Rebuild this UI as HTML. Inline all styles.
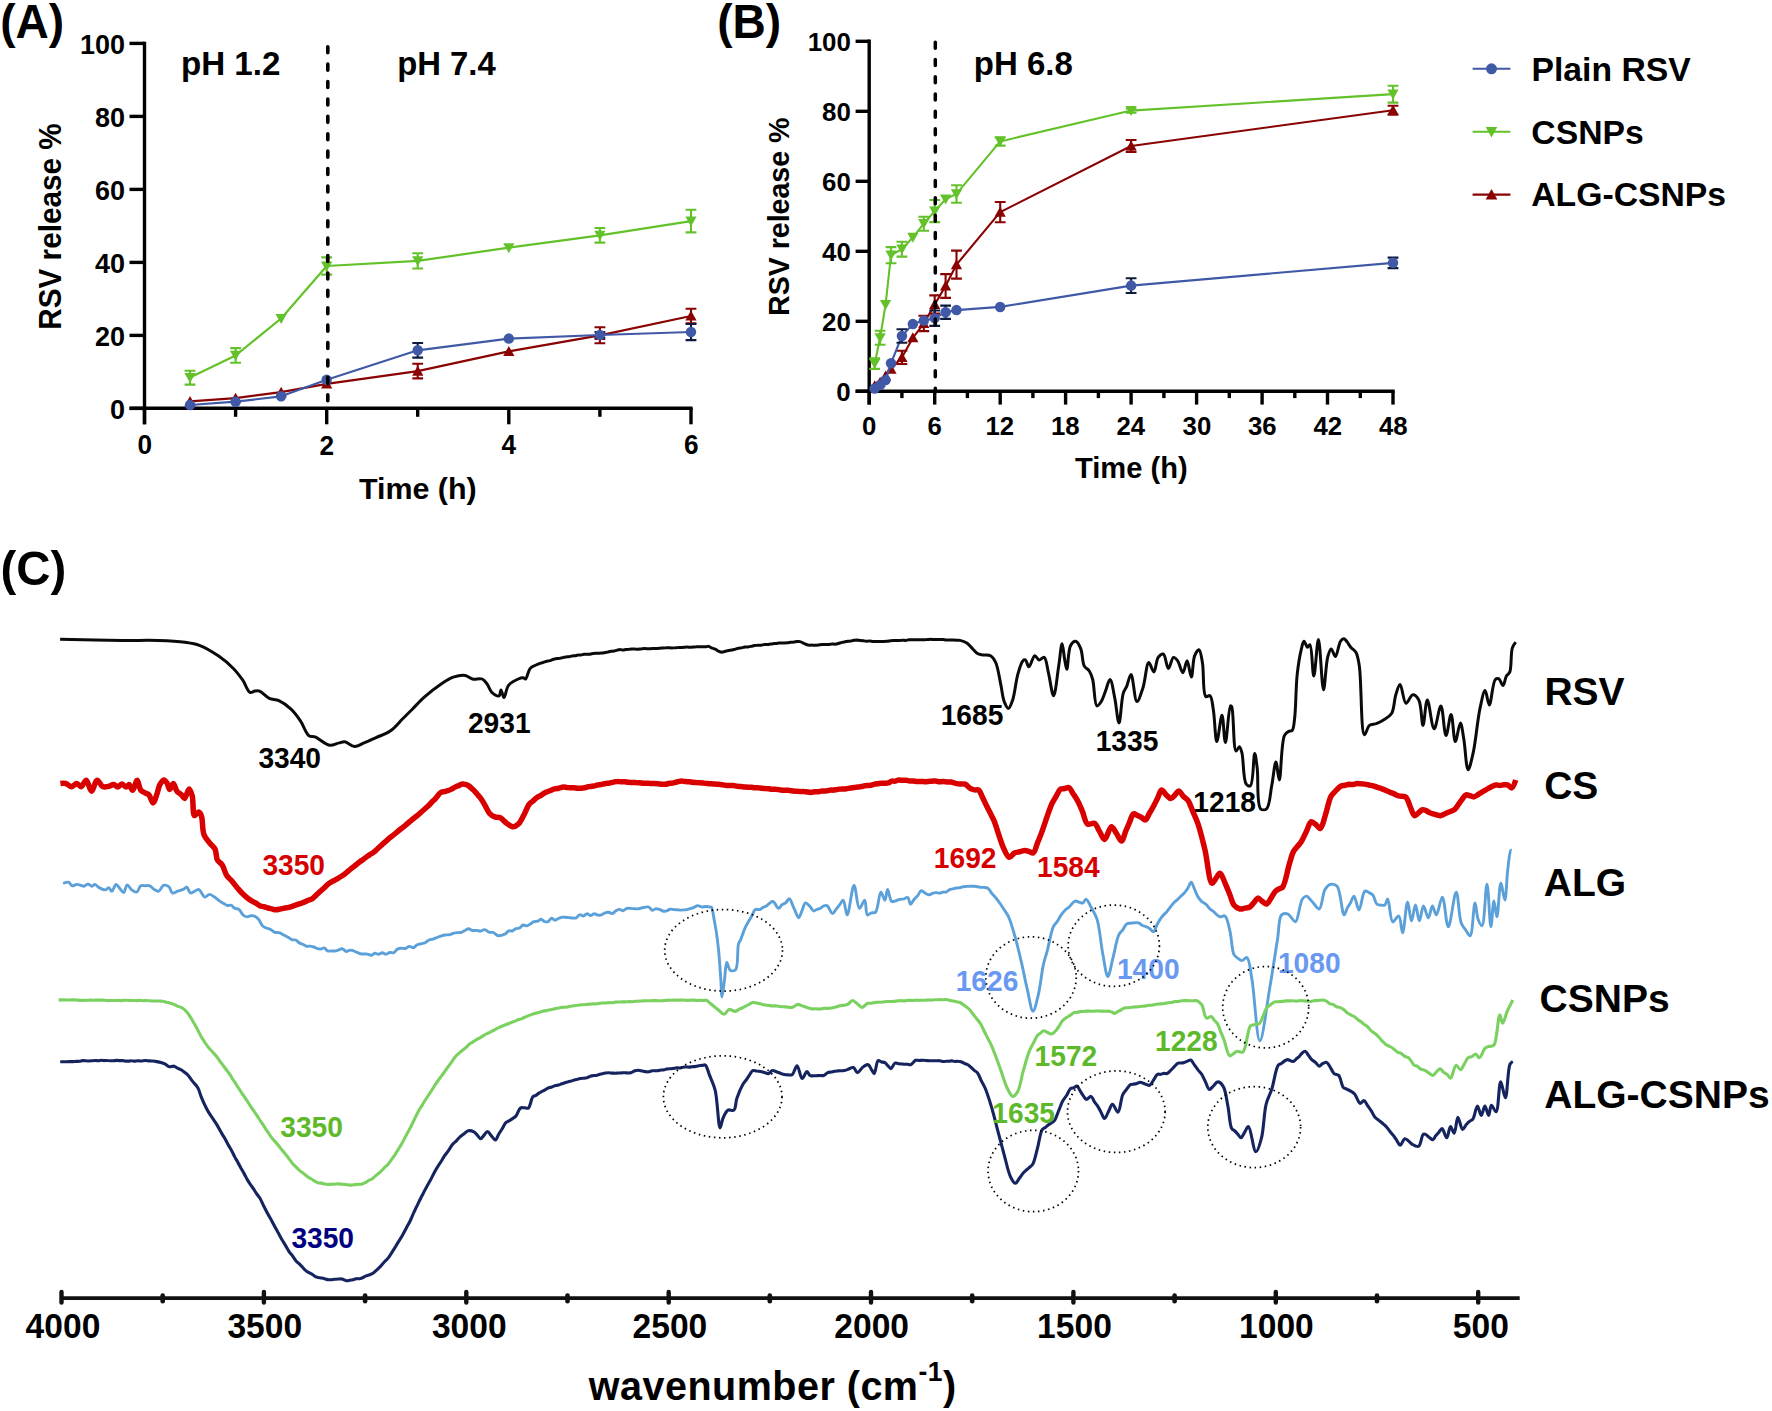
<!DOCTYPE html>
<html><head><meta charset="utf-8"><title>RSV release profiles and FTIR spectra</title>
<style>
html,body{margin:0;padding:0;background:#fff;}
svg{display:block;}
text{font-family:'Liberation Sans', Arial, Helvetica, sans-serif;}
</style></head>
<body>
<svg width="1772" height="1411" viewBox="0 0 1772 1411">
<rect width="1772" height="1411" fill="#fff"/>
<path d="M144.5,41.7V424.2" stroke="#000" stroke-width="3.4" fill="none"/>
<path d="M129.5,408.3H692.6" stroke="#000" stroke-width="3.6" fill="none"/>
<path d="M129.5,43.4H144.5" stroke="#000" stroke-width="3.4"/>
<path d="M129.5,116.4H144.5" stroke="#000" stroke-width="3.4"/>
<path d="M129.5,189.4H144.5" stroke="#000" stroke-width="3.4"/>
<path d="M129.5,262.4H144.5" stroke="#000" stroke-width="3.4"/>
<path d="M129.5,335.4H144.5" stroke="#000" stroke-width="3.4"/>
<path d="M129.5,408.4H144.5" stroke="#000" stroke-width="3.4"/>
<path d="M144.5,408.3V424.3" stroke="#000" stroke-width="3.4"/>
<path d="M235.6,408.3V416.8" stroke="#000" stroke-width="3.4"/>
<path d="M326.7,408.3V424.3" stroke="#000" stroke-width="3.4"/>
<path d="M417.7,408.3V416.8" stroke="#000" stroke-width="3.4"/>
<path d="M508.8,408.3V424.3" stroke="#000" stroke-width="3.4"/>
<path d="M599.9,408.3V416.8" stroke="#000" stroke-width="3.4"/>
<path d="M691.0,408.3V424.3" stroke="#000" stroke-width="3.4"/>
<path d="M190.0,401.4L235.6,398.1L281.1,392.2L326.7,383.9L417.7,371.1L508.8,351.4L599.9,335.3L691.0,316.0" stroke="#8a0202" stroke-width="2.2" fill="none" stroke-linejoin="round"/>
<path d="M417.7,363.8V378.4M412.3,363.8H423.1M412.3,378.4H423.1" stroke="#8a0202" stroke-width="2.1" fill="none"/>
<path d="M599.9,327.3V343.3M594.5,327.3H605.3M594.5,343.3H605.3" stroke="#8a0202" stroke-width="2.1" fill="none"/>
<path d="M691.0,308.7V323.3M685.6,308.7H696.4M685.6,323.3H696.4" stroke="#8a0202" stroke-width="2.1" fill="none"/>
<path d="M184.44,405.97L195.64,405.97L190.04,395.97Z" fill="#8a0202"/>
<path d="M229.98,402.68L241.18,402.68L235.58,392.68Z" fill="#8a0202"/>
<path d="M275.52,396.84L286.72,396.84L281.12,386.84Z" fill="#8a0202"/>
<path d="M321.06,388.45L332.26,388.45L326.66,378.45Z" fill="#8a0202"/>
<path d="M412.14,375.68L423.34,375.68L417.74,365.68Z" fill="#8a0202"/>
<path d="M503.22,355.98L514.42,355.98L508.82,345.98Z" fill="#8a0202"/>
<path d="M594.30,339.92L605.50,339.92L599.90,329.92Z" fill="#8a0202"/>
<path d="M685.38,320.58L696.58,320.58L690.98,310.58Z" fill="#8a0202"/>
<path d="M190.0,405.0L235.6,401.7L281.1,396.3L326.7,379.8L417.7,350.3L508.8,338.6L599.9,335.0L691.0,332.0" stroke="#4059a6" stroke-width="2.2" fill="none" stroke-linejoin="round"/>
<path d="M417.7,343.0V357.6M412.3,343.0H423.1M412.3,357.6H423.1" stroke="#0f1b3c" stroke-width="2.1" fill="none"/>
<path d="M599.9,332.0V337.9M594.5,332.0H605.3M594.5,337.9H605.3" stroke="#0f1b3c" stroke-width="2.1" fill="none"/>
<path d="M691.0,324.0V340.1M685.6,324.0H696.4M685.6,340.1H696.4" stroke="#0f1b3c" stroke-width="2.1" fill="none"/>
<circle cx="190.04" cy="405.02" r="5.25" fill="#4059a6"/>
<circle cx="235.58" cy="401.73" r="5.25" fill="#4059a6"/>
<circle cx="281.12" cy="396.26" r="5.25" fill="#4059a6"/>
<circle cx="326.66" cy="379.84" r="5.25" fill="#4059a6"/>
<circle cx="417.74" cy="350.28" r="5.25" fill="#4059a6"/>
<circle cx="508.82" cy="338.60" r="5.25" fill="#4059a6"/>
<circle cx="599.90" cy="334.96" r="5.25" fill="#4059a6"/>
<circle cx="690.98" cy="332.04" r="5.25" fill="#4059a6"/>
<path d="M190.0,377.6L235.6,355.4L281.1,318.5L326.7,266.0L417.7,260.9L508.8,247.7L599.9,235.3L691.0,221.1" stroke="#63c12a" stroke-width="2.2" fill="none" stroke-linejoin="round"/>
<path d="M190.0,370.7V384.6M184.6,370.7H195.4M184.6,384.6H195.4" stroke="#63c12a" stroke-width="2.1" fill="none"/>
<path d="M235.6,348.1V362.7M230.2,348.1H241.0M230.2,362.7H241.0" stroke="#63c12a" stroke-width="2.1" fill="none"/>
<path d="M326.7,257.4V274.6M321.3,257.4H332.1M321.3,274.6H332.1" stroke="#63c12a" stroke-width="2.1" fill="none"/>
<path d="M417.7,253.2V268.5M412.3,253.2H423.1M412.3,268.5H423.1" stroke="#63c12a" stroke-width="2.1" fill="none"/>
<path d="M599.9,228.0V242.6M594.5,228.0H605.3M594.5,242.6H605.3" stroke="#63c12a" stroke-width="2.1" fill="none"/>
<path d="M691.0,209.8V232.4M685.6,209.8H696.4M685.6,232.4H696.4" stroke="#63c12a" stroke-width="2.1" fill="none"/>
<path d="M184.44,373.05L195.64,373.05L190.04,383.05Z" fill="#63c12a"/>
<path d="M229.98,350.79L241.18,350.79L235.58,360.79Z" fill="#63c12a"/>
<path d="M275.52,313.93L286.72,313.93L281.12,323.93Z" fill="#63c12a"/>
<path d="M321.06,261.39L332.26,261.39L326.66,271.39Z" fill="#63c12a"/>
<path d="M412.14,256.28L423.34,256.28L417.74,266.28Z" fill="#63c12a"/>
<path d="M503.22,243.14L514.42,243.14L508.82,253.14Z" fill="#63c12a"/>
<path d="M594.30,230.74L605.50,230.74L599.90,240.74Z" fill="#63c12a"/>
<path d="M685.38,216.51L696.58,216.51L690.98,226.51Z" fill="#63c12a"/>
<path d="M327.8,46.75V404" stroke="#000" stroke-width="3.6" stroke-dasharray="6 11.4" stroke-linecap="round" fill="none"/>
<path d="M869.2,39.6V404.6" stroke="#000" stroke-width="3.4" fill="none"/>
<path d="M855.6,391.3H1394.7" stroke="#000" stroke-width="3.4" fill="none"/>
<path d="M855.6,41.3H869.2" stroke="#000" stroke-width="3.4"/>
<path d="M855.6,111.3H869.2" stroke="#000" stroke-width="3.4"/>
<path d="M855.6,181.3H869.2" stroke="#000" stroke-width="3.4"/>
<path d="M855.6,251.3H869.2" stroke="#000" stroke-width="3.4"/>
<path d="M855.6,321.3H869.2" stroke="#000" stroke-width="3.4"/>
<path d="M855.6,391.3H869.2" stroke="#000" stroke-width="3.4"/>
<path d="M869.2,391.3V404.6" stroke="#000" stroke-width="3.4"/>
<path d="M901.9,391.3V398.1" stroke="#000" stroke-width="3.4"/>
<path d="M934.7,391.3V404.6" stroke="#000" stroke-width="3.4"/>
<path d="M967.4,391.3V398.1" stroke="#000" stroke-width="3.4"/>
<path d="M1000.2,391.3V404.6" stroke="#000" stroke-width="3.4"/>
<path d="M1032.9,391.3V398.1" stroke="#000" stroke-width="3.4"/>
<path d="M1065.6,391.3V404.6" stroke="#000" stroke-width="3.4"/>
<path d="M1098.4,391.3V398.1" stroke="#000" stroke-width="3.4"/>
<path d="M1131.1,391.3V404.6" stroke="#000" stroke-width="3.4"/>
<path d="M1163.9,391.3V398.1" stroke="#000" stroke-width="3.4"/>
<path d="M1196.6,391.3V404.6" stroke="#000" stroke-width="3.4"/>
<path d="M1229.3,391.3V398.1" stroke="#000" stroke-width="3.4"/>
<path d="M1262.1,391.3V404.6" stroke="#000" stroke-width="3.4"/>
<path d="M1294.8,391.3V398.1" stroke="#000" stroke-width="3.4"/>
<path d="M1327.5,391.3V404.6" stroke="#000" stroke-width="3.4"/>
<path d="M1360.3,391.3V398.1" stroke="#000" stroke-width="3.4"/>
<path d="M1393.0,391.3V404.6" stroke="#000" stroke-width="3.4"/>
<path d="M874.7,385.7L880.1,382.2L885.6,375.9L891.0,369.2L901.9,357.4L912.9,337.8L923.8,323.4L934.7,304.5L945.6,285.9L956.5,264.6L1000.2,212.1L1131.1,146.0L1393.0,110.2" stroke="#8a0202" stroke-width="2.1" fill="none" stroke-linejoin="round"/>
<path d="M901.9,350.7V364.0M896.5,350.7H907.3M896.5,364.0H907.3" stroke="#8a0202" stroke-width="2.1" fill="none"/>
<path d="M923.8,315.7V331.1M918.4,315.7H929.2M918.4,331.1H929.2" stroke="#8a0202" stroke-width="2.1" fill="none"/>
<path d="M934.7,295.4V313.6M929.3,295.4H940.1M929.3,313.6H940.1" stroke="#8a0202" stroke-width="2.1" fill="none"/>
<path d="M945.6,274.1V297.9M940.2,274.1H951.0M940.2,297.9H951.0" stroke="#8a0202" stroke-width="2.1" fill="none"/>
<path d="M956.5,250.6V278.6M951.1,250.6H961.9M951.1,278.6H961.9" stroke="#8a0202" stroke-width="2.1" fill="none"/>
<path d="M1000.2,202.0V222.2M994.8,202.0H1005.6M994.8,222.2H1005.6" stroke="#8a0202" stroke-width="2.1" fill="none"/>
<path d="M1131.1,140.0V151.9M1125.7,140.0H1136.5M1125.7,151.9H1136.5" stroke="#8a0202" stroke-width="2.1" fill="none"/>
<path d="M1393.0,105.7V114.8M1387.6,105.7H1398.4M1387.6,114.8H1398.4" stroke="#8a0202" stroke-width="2.1" fill="none"/>
<path d="M869.06,390.30L880.26,390.30L874.66,380.30Z" fill="#8a0202"/>
<path d="M874.51,386.80L885.71,386.80L880.11,376.80Z" fill="#8a0202"/>
<path d="M879.97,380.50L891.17,380.50L885.57,370.50Z" fill="#8a0202"/>
<path d="M885.43,373.85L896.63,373.85L891.03,363.85Z" fill="#8a0202"/>
<path d="M896.34,361.95L907.54,361.95L901.94,351.95Z" fill="#8a0202"/>
<path d="M907.25,342.35L918.45,342.35L912.85,332.35Z" fill="#8a0202"/>
<path d="M918.17,328.00L929.37,328.00L923.77,318.00Z" fill="#8a0202"/>
<path d="M929.08,309.10L940.28,309.10L934.68,299.10Z" fill="#8a0202"/>
<path d="M939.99,290.55L951.19,290.55L945.59,280.55Z" fill="#8a0202"/>
<path d="M950.90,269.20L962.10,269.20L956.50,259.20Z" fill="#8a0202"/>
<path d="M994.56,216.70L1005.76,216.70L1000.16,206.70Z" fill="#8a0202"/>
<path d="M1125.51,150.55L1136.71,150.55L1131.11,140.55Z" fill="#8a0202"/>
<path d="M1387.42,114.85L1398.62,114.85L1393.02,104.85Z" fill="#8a0202"/>
<path d="M874.7,388.5L880.1,385.0L885.6,380.1L891.0,363.3L901.9,336.0L912.9,324.1L923.8,320.6L934.7,318.2L945.6,312.2L956.5,310.1L1000.2,306.9L1131.1,285.6L1393.0,262.9" stroke="#4059a6" stroke-width="2.1" fill="none" stroke-linejoin="round"/>
<path d="M901.9,329.2V342.8M896.5,329.2H907.3M896.5,342.8H907.3" stroke="#0f1b3c" stroke-width="2.1" fill="none"/>
<path d="M934.7,310.5V325.9M929.3,310.5H940.1M929.3,325.9H940.1" stroke="#0f1b3c" stroke-width="2.1" fill="none"/>
<path d="M945.6,305.6V318.9M940.2,305.6H951.0M940.2,318.9H951.0" stroke="#0f1b3c" stroke-width="2.1" fill="none"/>
<path d="M1131.1,278.2V293.0M1125.7,278.2H1136.5M1125.7,293.0H1136.5" stroke="#0f1b3c" stroke-width="2.1" fill="none"/>
<path d="M1393.0,257.6V268.1M1387.6,257.6H1398.4M1387.6,268.1H1398.4" stroke="#0f1b3c" stroke-width="2.1" fill="none"/>
<circle cx="874.66" cy="388.50" r="5.25" fill="#4059a6"/>
<circle cx="880.11" cy="385.00" r="5.25" fill="#4059a6"/>
<circle cx="885.57" cy="380.10" r="5.25" fill="#4059a6"/>
<circle cx="891.03" cy="363.30" r="5.25" fill="#4059a6"/>
<circle cx="901.94" cy="336.00" r="5.25" fill="#4059a6"/>
<circle cx="912.85" cy="324.10" r="5.25" fill="#4059a6"/>
<circle cx="923.77" cy="320.60" r="5.25" fill="#4059a6"/>
<circle cx="934.68" cy="318.15" r="5.25" fill="#4059a6"/>
<circle cx="945.59" cy="312.20" r="5.25" fill="#4059a6"/>
<circle cx="956.50" cy="310.10" r="5.25" fill="#4059a6"/>
<circle cx="1000.16" cy="306.95" r="5.25" fill="#4059a6"/>
<circle cx="1131.11" cy="285.60" r="5.25" fill="#4059a6"/>
<circle cx="1393.02" cy="262.85" r="5.25" fill="#4059a6"/>
<path d="M874.7,363.7L880.1,337.8L885.6,304.5L891.0,255.2L901.9,249.2L912.9,237.3L923.8,223.7L934.7,211.1L945.6,199.2L956.5,193.9L1000.2,141.4L1131.1,110.6L1393.0,94.1" stroke="#63c12a" stroke-width="2.1" fill="none" stroke-linejoin="round"/>
<path d="M874.7,358.4V368.9M869.3,358.4H880.1M869.3,368.9H880.1" stroke="#63c12a" stroke-width="2.1" fill="none"/>
<path d="M880.1,330.8V344.8M874.7,330.8H885.5M874.7,344.8H885.5" stroke="#63c12a" stroke-width="2.1" fill="none"/>
<path d="M891.0,247.1V263.2M885.6,247.1H896.4M885.6,263.2H896.4" stroke="#63c12a" stroke-width="2.1" fill="none"/>
<path d="M901.9,241.8V256.6M896.5,241.8H907.3M896.5,256.6H907.3" stroke="#63c12a" stroke-width="2.1" fill="none"/>
<path d="M923.8,216.7V230.7M918.4,216.7H929.2M918.4,230.7H929.2" stroke="#63c12a" stroke-width="2.1" fill="none"/>
<path d="M934.7,200.0V222.1M929.3,200.0H940.1M929.3,222.1H940.1" stroke="#63c12a" stroke-width="2.1" fill="none"/>
<path d="M956.5,185.2V202.7M951.1,185.2H961.9M951.1,202.7H961.9" stroke="#63c12a" stroke-width="2.1" fill="none"/>
<path d="M1000.2,137.2V145.6M994.8,137.2H1005.6M994.8,145.6H1005.6" stroke="#63c12a" stroke-width="2.1" fill="none"/>
<path d="M1131.1,108.5V112.7M1125.7,108.5H1136.5M1125.7,112.7H1136.5" stroke="#63c12a" stroke-width="2.1" fill="none"/>
<path d="M1393.0,85.7V102.6M1387.6,85.7H1398.4M1387.6,102.6H1398.4" stroke="#63c12a" stroke-width="2.1" fill="none"/>
<path d="M869.06,359.05L880.26,359.05L874.66,369.05Z" fill="#63c12a"/>
<path d="M874.51,333.15L885.71,333.15L880.11,343.15Z" fill="#63c12a"/>
<path d="M879.97,299.90L891.17,299.90L885.57,309.90Z" fill="#63c12a"/>
<path d="M885.43,250.55L896.63,250.55L891.03,260.55Z" fill="#63c12a"/>
<path d="M896.34,244.60L907.54,244.60L901.94,254.60Z" fill="#63c12a"/>
<path d="M907.25,232.70L918.45,232.70L912.85,242.70Z" fill="#63c12a"/>
<path d="M918.17,219.05L929.37,219.05L923.77,229.05Z" fill="#63c12a"/>
<path d="M929.08,206.45L940.28,206.45L934.68,216.45Z" fill="#63c12a"/>
<path d="M939.99,194.55L951.19,194.55L945.59,204.55Z" fill="#63c12a"/>
<path d="M950.90,189.30L962.10,189.30L956.50,199.30Z" fill="#63c12a"/>
<path d="M994.56,136.80L1005.76,136.80L1000.16,146.80Z" fill="#63c12a"/>
<path d="M1125.51,106.00L1136.71,106.00L1131.11,116.00Z" fill="#63c12a"/>
<path d="M1387.42,89.55L1398.62,89.55L1393.02,99.55Z" fill="#63c12a"/>
<path d="M935.3,42.15V392" stroke="#000" stroke-width="3.5" stroke-dasharray="6 11.3" stroke-linecap="round" fill="none"/>
<path d="M1472.6,68.8H1510.4" stroke="#4059a6" stroke-width="2.1"/>
<circle cx="1491.50" cy="68.80" r="5.46" fill="#4059a6"/>
<path d="M1472.6,131.8H1510.4" stroke="#63c12a" stroke-width="2.1"/>
<path d="M1485.68,127.02L1497.32,127.02L1491.50,137.42Z" fill="#63c12a"/>
<path d="M1472.6,194.6H1510.4" stroke="#8a0202" stroke-width="2.1"/>
<path d="M1485.68,199.38L1497.32,199.38L1491.50,188.98Z" fill="#8a0202"/>
<path d="M60.1,639.3C60.1,639.3 104.4,640.3 122.3,640.5C136.0,640.6 147.3,640.1 158.4,640.5C167.9,640.8 177.5,641.2 185.0,642.2C190.6,643.0 194.4,643.4 199.4,645.3C205.5,647.6 212.9,652.1 218.7,656.1C224.0,659.8 228.9,664.0 233.1,668.2C236.9,672.0 239.9,676.1 242.8,680.2C245.5,684.1 247.4,691.2 250.0,692.3C251.5,692.9 253.2,691.3 254.8,691.1C256.4,690.9 257.8,690.5 259.6,691.1C262.4,692.0 265.9,696.7 269.3,698.3C272.4,699.8 275.7,699.2 278.9,700.7C282.9,702.5 287.4,705.8 291.0,709.2C294.7,712.6 297.7,716.9 300.6,721.2C303.7,725.7 305.9,733.5 309.0,735.7C310.9,737.1 312.7,736.0 315.1,736.9C319.0,738.4 325.1,744.7 329.5,745.3C332.9,745.8 336.4,743.5 339.2,742.9C341.3,742.4 342.7,741.4 344.8,741.7C347.6,742.1 351.2,746.3 354.5,746.5C357.7,746.7 360.7,744.3 364.1,742.9C367.9,741.4 371.9,739.5 376.1,737.6C380.7,735.5 386.2,733.9 390.6,730.8C395.1,727.6 398.9,722.6 402.7,718.8C406.1,715.4 408.9,712.6 412.3,709.2C416.1,705.4 419.8,701.1 424.3,697.1C429.3,692.6 435.9,687.4 441.2,683.9C445.5,681.1 449.1,678.5 453.3,677.1C457.2,675.8 461.9,674.8 465.3,675.4C468.1,675.9 469.8,678.4 472.5,679.0C475.4,679.7 479.7,677.9 482.2,679.0C484.3,679.9 485.5,681.9 487.0,683.9C488.8,686.2 489.7,690.3 491.8,692.3C493.8,694.1 497.5,696.5 499.0,695.9C500.4,695.3 500.2,689.9 501.0,689.9C501.9,689.9 502.8,697.6 503.9,697.6C505.3,697.6 506.1,688.2 508.7,685.1C511.1,682.2 515.6,680.2 518.3,679.0C520.1,678.2 521.8,677.7 523.1,677.8C524.1,677.9 524.7,679.3 525.5,679.0C527.2,678.4 527.9,670.8 530.4,668.2C532.8,665.7 537.6,664.4 540.0,663.4C541.4,662.8 542.3,662.7 543.4,662.3C544.5,662.0 545.6,661.5 546.8,661.2C547.9,661.0 549.0,660.9 550.1,660.6C551.3,660.3 552.4,659.6 553.5,659.3C554.6,658.9 555.8,658.8 556.9,658.6C557.9,658.4 558.9,658.3 559.9,658.2C560.9,658.0 561.9,657.8 562.9,657.6C563.9,657.4 564.9,657.0 565.9,656.9C566.9,656.8 568.0,656.9 569.0,656.8C570.0,656.6 571.0,656.1 572.0,656.0C573.0,655.8 574.0,655.9 575.0,655.8C576.0,655.6 577.0,655.2 578.0,655.1C579.0,654.9 580.0,655.0 581.0,654.9C582.0,654.8 583.0,654.4 584.0,654.3C585.0,654.2 586.0,654.3 587.0,654.2C588.0,654.2 589.0,654.4 590.0,654.2C591.1,654.1 592.0,653.6 593.0,653.4C594.0,653.3 595.1,653.2 596.1,653.2C597.1,653.2 598.1,653.2 599.1,653.2C600.1,653.2 601.1,653.2 602.1,653.1C603.1,653.0 604.1,652.7 605.1,652.5C606.1,652.3 607.1,652.2 608.1,652.0C609.1,651.7 610.1,651.4 611.1,651.2C612.1,651.1 613.1,651.2 614.1,651.0C615.1,650.8 616.1,650.3 617.1,650.1C618.1,649.9 619.1,649.6 620.1,649.6C621.1,649.6 622.1,650.1 623.1,650.1C624.1,650.0 625.1,649.6 626.1,649.5C627.1,649.4 628.1,649.3 629.2,649.3C630.2,649.2 631.2,649.1 632.2,649.1C633.2,649.1 634.2,649.0 635.2,649.1C636.2,649.1 637.2,649.3 638.2,649.3C639.2,649.2 640.2,649.0 641.2,648.9C642.2,648.8 643.3,648.6 644.3,648.6C645.4,648.6 646.4,648.7 647.5,648.8C648.5,648.8 649.6,648.8 650.6,648.7C651.6,648.6 652.7,648.5 653.7,648.4C654.8,648.4 655.8,648.5 656.9,648.4C657.9,648.4 659.0,648.4 660.0,648.3C661.0,648.2 662.0,648.0 663.0,647.9C664.0,647.8 665.1,647.8 666.1,647.8C667.1,647.7 668.1,647.7 669.1,647.7C670.1,647.8 671.1,648.0 672.1,648.0C673.1,647.9 674.1,647.7 675.2,647.7C676.2,647.6 677.2,647.5 678.2,647.5C679.2,647.4 680.2,647.6 681.2,647.5C682.2,647.5 683.2,647.4 684.2,647.3C685.3,647.2 686.3,647.1 687.3,647.1C688.3,647.1 689.3,647.3 690.3,647.3C691.3,647.3 692.3,647.2 693.3,647.1C694.4,647.0 695.4,646.7 696.4,646.7C697.4,646.6 698.4,646.8 699.4,646.8C700.4,646.8 701.4,646.7 702.4,646.7C703.4,646.7 704.5,646.8 705.5,646.8C706.5,646.7 707.5,646.2 708.5,646.4C709.6,646.6 710.7,647.6 711.9,648.0C713.0,648.5 714.1,648.7 715.2,649.2C716.4,649.7 717.5,650.6 718.6,651.2C719.7,651.7 720.9,652.3 722.0,652.3C723.1,652.3 724.2,651.5 725.4,651.2C726.5,651.0 727.6,650.8 728.7,650.6C729.8,650.5 730.9,650.3 732.0,650.1C733.2,649.8 734.3,649.4 735.4,649.1C736.5,648.8 737.5,648.5 738.5,648.3C739.6,648.1 740.7,648.1 741.7,647.9C742.8,647.7 743.8,647.2 744.8,647.0C745.9,646.9 747.0,647.0 748.0,646.9C749.1,646.8 750.1,646.6 751.1,646.4C752.2,646.2 753.2,645.8 754.3,645.6C755.4,645.4 756.5,645.4 757.7,645.3C758.8,645.2 759.9,645.3 761.0,645.2C762.2,645.0 763.3,644.6 764.4,644.5C765.5,644.3 766.6,644.5 767.8,644.4C768.9,644.3 770.0,644.1 771.1,644.0C772.2,643.9 773.4,643.8 774.5,643.6C775.6,643.5 776.7,643.3 777.8,643.2C779.0,643.1 780.1,642.9 781.2,642.9C782.3,642.9 783.3,642.9 784.4,642.9C785.4,642.9 786.5,642.9 787.5,642.8C788.6,642.7 789.6,642.3 790.7,642.2C791.7,642.1 792.8,642.3 793.8,642.1C794.9,642.0 795.9,641.6 797.0,641.5C798.0,641.4 799.0,641.3 800.1,641.6C801.4,641.9 802.8,642.9 804.2,643.5C805.5,644.1 806.9,644.9 808.2,645.1C809.4,645.3 810.4,645.1 811.6,645.1C812.7,645.1 813.8,645.2 814.9,645.2C816.0,645.2 817.2,645.1 818.3,645.0C819.4,644.9 820.5,644.6 821.7,644.5C822.8,644.4 823.9,644.5 825.0,644.5C826.1,644.5 827.3,644.6 828.4,644.5C829.5,644.5 830.6,644.0 831.7,644.0C832.9,643.9 834.0,644.3 835.1,644.2C836.2,644.1 837.2,643.8 838.2,643.5C839.3,643.2 840.3,642.9 841.4,642.6C842.4,642.4 843.5,642.2 844.5,641.9C845.6,641.7 846.6,641.4 847.7,641.2C848.7,641.1 849.8,641.2 850.9,641.1C851.9,640.9 852.9,640.4 854.0,640.2C855.0,640.1 856.0,640.1 857.1,640.1C858.1,640.2 859.1,640.3 860.1,640.4C861.2,640.5 862.2,640.6 863.2,640.7C864.2,640.9 865.3,641.2 866.3,641.3C867.3,641.3 868.3,640.9 869.4,640.9C870.4,640.9 871.4,641.2 872.4,641.4C873.5,641.5 874.5,641.6 875.5,641.6C876.5,641.6 877.5,641.5 878.5,641.5C879.5,641.5 880.5,641.6 881.5,641.6C882.5,641.5 883.5,641.4 884.5,641.4C885.5,641.3 886.5,641.3 887.5,641.2C888.5,641.1 889.5,640.8 890.5,640.7C891.5,640.6 892.5,640.6 893.5,640.6C894.5,640.6 895.5,640.4 896.5,640.4C897.5,640.4 898.5,640.7 899.5,640.6C900.5,640.6 901.5,640.2 902.5,640.2C903.5,640.2 904.6,640.5 905.6,640.5C906.6,640.4 907.7,639.9 908.7,639.8C909.7,639.7 910.8,639.8 911.8,639.8C912.9,639.8 913.9,639.8 914.9,639.8C916.0,639.8 917.0,639.7 918.0,639.7C919.1,639.7 920.1,639.8 921.1,639.8C922.2,639.8 923.2,639.9 924.3,639.8C925.3,639.8 926.3,639.6 927.4,639.5C928.4,639.5 929.4,639.3 930.5,639.3C931.5,639.3 932.5,639.5 933.6,639.5C934.6,639.5 935.6,639.4 936.7,639.4C937.7,639.4 938.8,639.5 939.8,639.5C940.8,639.5 941.8,639.3 942.9,639.4C944.0,639.5 945.2,639.8 946.3,639.9C947.5,640.0 948.6,639.9 949.7,639.9C950.9,639.9 952.0,640.0 953.2,640.0C954.3,640.1 955.4,640.2 956.6,640.3C957.7,640.3 958.7,640.1 960.0,640.4C961.9,640.8 964.5,641.5 966.8,643.0C970.1,645.1 974.0,651.3 977.0,653.2C978.8,654.3 980.2,654.5 982.1,654.9C984.5,655.4 988.3,654.4 990.6,655.7C992.9,657.0 994.3,659.4 995.7,662.5C998.1,667.6 999.3,677.7 1000.8,684.6C1002.1,690.6 1002.5,697.3 1004.2,701.6C1005.4,704.5 1007.1,708.5 1008.5,708.4C1010.0,708.3 1011.4,703.6 1012.7,699.9C1014.8,693.8 1015.8,681.5 1017.8,674.4C1019.3,669.1 1021.0,662.6 1022.9,660.8C1023.7,660.0 1024.7,659.7 1025.5,660.0C1026.8,660.6 1027.6,666.8 1028.9,666.8C1030.6,666.8 1032.8,656.0 1034.8,655.7C1036.2,655.5 1037.5,659.7 1039.1,660.0C1040.6,660.2 1042.8,656.8 1044.2,657.4C1046.5,658.4 1047.0,667.1 1048.4,672.7C1050.1,679.6 1052.0,695.7 1053.6,695.7C1055.4,695.7 1057.2,675.1 1058.7,665.9C1060.0,658.0 1061.0,643.8 1062.1,643.8C1063.0,643.8 1063.7,654.5 1064.6,659.1C1065.3,662.9 1066.0,669.3 1066.8,669.3C1068.0,669.3 1068.0,650.0 1070.6,645.5C1071.9,643.2 1074.1,641.1 1075.7,641.3C1077.6,641.6 1079.5,645.7 1080.8,648.9C1082.6,653.3 1082.2,662.1 1084.2,665.9C1085.5,668.4 1087.9,668.9 1089.3,671.0C1090.8,673.3 1091.7,675.8 1092.7,679.5C1094.4,685.8 1094.4,705.1 1096.9,705.9C1098.1,706.3 1099.9,703.5 1101.2,701.6C1102.9,699.0 1104.0,694.9 1105.4,691.4C1106.9,687.6 1108.6,679.4 1110.0,679.5C1111.8,679.6 1113.4,691.5 1114.8,698.2C1116.4,705.8 1117.6,722.9 1119.0,722.9C1120.5,722.9 1121.3,699.4 1123.3,693.1C1124.3,689.9 1125.6,688.9 1126.7,686.3C1128.1,682.9 1129.6,674.3 1131.0,674.4C1133.1,674.5 1134.5,701.4 1136.9,701.6C1138.7,701.8 1141.1,693.3 1142.9,688.0C1145.3,680.9 1146.4,662.8 1148.8,662.5C1150.3,662.3 1152.4,672.1 1153.9,671.9C1155.7,671.7 1156.0,660.4 1158.2,657.4C1159.6,655.5 1161.8,653.5 1163.3,654.0C1165.6,654.8 1166.6,668.4 1168.4,668.5C1170.0,668.6 1171.6,657.9 1173.5,657.4C1174.8,657.1 1176.4,659.1 1177.7,660.8C1179.7,663.4 1181.2,672.7 1182.8,672.7C1184.4,672.7 1185.8,660.7 1187.1,660.8C1188.6,660.9 1190.1,677.1 1191.3,677.0C1192.7,676.9 1192.7,660.4 1194.7,655.7C1195.8,652.9 1197.8,649.6 1199.0,649.8C1200.6,650.1 1201.4,657.2 1202.4,662.5C1204.0,671.1 1202.6,694.1 1205.8,696.5C1206.9,697.4 1208.9,695.0 1210.0,695.7C1212.1,697.1 1212.4,704.4 1213.4,710.2C1214.8,718.6 1215.3,741.5 1216.8,741.6C1218.2,741.7 1220.6,715.2 1222.0,715.3C1223.4,715.4 1224.1,742.5 1225.4,742.5C1226.9,742.5 1228.5,706.8 1230.5,705.9C1230.9,705.7 1231.3,706.1 1231.7,706.7C1233.8,710.2 1233.2,750.2 1236.0,751.0C1237.0,751.3 1238.4,746.6 1239.4,746.7C1240.4,746.8 1241.1,749.8 1241.9,752.7C1243.6,759.0 1243.1,780.1 1246.2,784.1C1247.4,785.6 1249.2,786.5 1250.4,785.8C1253.5,784.0 1253.4,753.5 1254.7,753.5C1255.6,753.5 1256.4,761.9 1257.2,768.0C1258.5,778.1 1256.5,805.0 1260.6,808.8C1262.2,810.2 1265.0,810.1 1266.6,808.8C1269.8,806.2 1270.2,793.5 1271.7,785.8C1273.3,778.0 1274.6,762.0 1275.9,762.0C1277.1,762.0 1278.2,779.9 1279.3,779.9C1281.0,779.8 1281.1,742.4 1284.4,735.6C1285.6,733.1 1287.2,732.2 1288.7,731.4C1289.8,730.8 1291.2,731.4 1292.1,730.5C1293.8,728.8 1293.9,723.9 1294.6,718.6C1295.9,708.6 1295.8,687.1 1297.2,674.4C1298.3,664.7 1299.9,654.9 1301.4,648.9C1302.2,645.6 1302.9,641.4 1304.0,641.3C1305.0,641.2 1306.3,647.0 1307.4,647.2C1308.2,647.3 1309.2,644.4 1309.9,644.7C1312.1,645.5 1312.4,676.1 1313.8,676.1C1315.3,676.1 1316.9,639.6 1318.4,639.6C1320.2,639.6 1321.8,689.7 1323.5,689.7C1324.9,689.7 1325.8,663.7 1327.8,656.6C1328.8,653.0 1329.9,649.0 1331.2,648.9C1332.5,648.8 1334.1,656.7 1335.4,656.6C1337.2,656.4 1338.5,644.1 1340.5,641.3C1341.5,639.8 1342.8,638.6 1343.9,638.7C1345.1,638.8 1346.2,640.8 1347.3,642.1C1348.5,643.6 1349.3,645.6 1350.7,647.2C1352.2,649.0 1354.6,649.9 1355.9,652.3C1357.8,655.6 1358.3,659.6 1359.3,665.9C1361.6,680.0 1360.8,734.0 1364.4,734.8C1365.8,735.1 1367.2,727.2 1369.5,725.4C1371.4,724.0 1374.1,724.5 1376.3,723.7C1378.6,722.8 1380.8,721.8 1383.1,720.3C1385.9,718.5 1389.5,716.8 1391.6,713.5C1394.3,709.1 1394.1,700.0 1395.8,694.8C1397.1,690.8 1398.6,684.5 1400.1,684.6C1402.0,684.7 1403.4,702.8 1406.0,703.3C1407.9,703.7 1410.5,695.0 1412.8,694.8C1414.8,694.6 1417.2,697.1 1418.8,699.9C1421.6,704.9 1421.6,725.4 1423.0,725.4C1424.4,725.4 1425.5,700.0 1427.3,699.9C1429.2,699.8 1431.7,728.7 1434.1,728.8C1436.3,728.9 1439.0,705.8 1440.9,705.9C1443.0,706.0 1444.1,735.5 1446.0,735.6C1447.6,735.7 1449.6,714.3 1451.1,714.4C1452.8,714.5 1453.6,741.5 1455.3,741.6C1456.8,741.7 1458.9,722.9 1460.4,722.9C1461.7,722.9 1462.7,732.8 1463.8,739.0C1465.3,747.6 1466.2,769.6 1468.1,769.7C1469.5,769.8 1471.6,759.8 1473.2,752.7C1475.7,741.5 1477.5,719.8 1480.0,708.4C1481.6,701.1 1483.5,690.6 1485.1,690.6C1486.6,690.6 1487.9,705.0 1489.3,705.0C1491.2,704.9 1492.5,682.3 1495.3,679.5C1496.3,678.5 1497.6,678.3 1498.7,678.7C1500.3,679.4 1501.8,685.6 1503.0,685.5C1504.4,685.4 1505.0,678.5 1506.4,676.1C1507.4,674.3 1508.9,674.1 1509.8,671.9C1511.7,667.3 1510.6,653.3 1512.3,648.1C1513.2,645.3 1515.7,642.1 1515.7,642.1" stroke="#0a0a0a" stroke-width="3.0" fill="none" stroke-linejoin="round"/>
<path d="M60.4,783.5C60.4,783.5 64.0,783.0 65.8,783.5C67.8,784.0 69.8,786.8 71.7,786.7C73.5,786.6 75.1,783.5 76.7,783.5C78.3,783.5 79.8,786.9 81.2,786.7C83.0,786.4 84.6,780.1 86.2,780.3C88.1,780.5 89.8,791.2 91.6,791.2C93.4,791.2 94.9,780.6 97.0,780.3C98.8,780.0 100.7,785.8 102.9,786.7C104.8,787.4 107.3,786.6 109.2,786.2C110.9,785.8 112.3,784.3 113.7,784.4C115.1,784.5 116.5,787.2 117.8,787.1C119.2,787.0 120.4,784.0 121.8,784.0C123.2,784.0 125.0,787.2 126.3,787.1C127.4,787.0 128.1,784.3 129.0,784.4C130.2,784.5 131.5,790.4 132.7,790.3C134.2,790.2 135.8,780.2 137.2,780.3C138.5,780.4 139.1,788.2 140.8,790.3C142.0,791.8 143.9,792.2 145.3,793.0C146.6,793.7 147.8,793.7 148.9,794.8C150.5,796.4 151.7,802.9 153.0,802.9C154.4,802.9 155.9,796.9 157.0,793.9C158.1,790.9 158.4,787.4 159.7,784.9C160.8,782.9 162.5,780.0 163.8,779.9C164.9,779.8 166.1,781.7 167.0,783.1C168.1,784.8 168.7,789.3 169.7,789.4C170.8,789.5 172.2,783.4 173.3,783.5C174.6,783.6 175.4,789.2 176.9,791.2C178.2,792.8 180.1,793.5 181.4,794.8C182.6,796.0 183.6,798.5 184.6,798.4C186.1,798.2 187.7,788.9 189.1,788.9C190.2,788.9 191.4,792.8 192.2,795.7C193.5,800.5 192.5,814.8 194.5,815.6C195.5,816.0 197.4,811.9 198.6,812.0C199.7,812.1 200.6,813.8 201.3,815.6C202.9,819.4 202.1,830.0 204.0,834.8C205.3,838.2 207.6,840.3 209.5,842.7C211.3,845.0 213.7,846.4 215.0,849.0C216.5,852.0 215.9,857.2 217.4,860.0C218.6,862.1 220.7,862.7 222.1,864.8C224.0,867.6 225.0,873.0 226.9,875.8C228.3,877.9 230.0,878.8 231.6,880.6C233.6,882.9 235.9,886.2 237.9,888.5C239.6,890.5 241.0,892.2 242.7,893.8C244.2,895.3 245.8,896.8 247.4,898.0C248.8,899.1 250.2,900.0 251.6,900.9C253.0,901.7 254.4,902.2 255.8,903.0C257.2,903.9 258.6,905.3 260.0,905.9C261.3,906.4 262.6,906.3 263.9,906.7C265.3,907.0 266.6,907.6 267.9,908.0C269.2,908.4 270.5,908.6 271.9,908.9C273.2,909.2 274.5,909.8 275.8,909.8C277.2,909.8 278.6,909.4 280.0,909.1C281.4,908.8 282.9,908.4 284.3,908.1C285.7,907.8 287.2,907.7 288.5,907.4C289.7,907.1 290.9,906.7 292.1,906.3C293.2,905.9 294.4,905.5 295.6,905.1C296.8,904.7 298.0,904.3 299.1,903.9C300.3,903.5 301.4,903.2 302.7,902.7C304.2,902.1 305.9,901.2 307.4,900.6C309.0,899.9 310.8,899.7 312.2,898.8C313.7,897.9 314.8,896.4 316.1,895.2C317.5,894.0 318.7,892.9 320.1,891.6C321.6,890.2 323.3,888.7 324.9,887.2C326.4,885.8 328.0,884.1 329.6,883.0C331.0,882.0 332.4,881.5 333.8,880.7C335.2,880.0 336.6,879.3 338.0,878.4C339.4,877.6 340.8,876.7 342.2,875.8C343.6,874.9 344.9,873.9 346.1,872.9C347.5,871.8 348.8,870.6 350.1,869.5C351.4,868.4 352.7,867.4 354.1,866.3C355.4,865.3 356.7,864.2 358.0,863.2C359.3,862.2 360.6,861.3 361.9,860.3C363.3,859.3 364.6,858.4 365.9,857.4C367.2,856.5 368.5,855.5 369.9,854.6C371.2,853.8 372.5,853.1 373.8,852.1C375.2,851.1 376.4,849.7 377.8,848.5C379.1,847.3 380.4,846.1 381.7,844.9C383.0,843.7 384.3,842.6 385.7,841.4C387.0,840.2 388.3,839.0 389.6,837.9C390.9,836.8 392.2,836.0 393.6,834.9C394.9,833.9 396.2,832.7 397.5,831.6C398.8,830.5 400.1,829.5 401.4,828.5C402.8,827.4 404.0,826.4 405.4,825.3C406.9,824.1 408.4,822.7 409.9,821.5C411.4,820.2 412.9,818.9 414.5,817.7C416.0,816.5 417.5,815.4 419.0,814.2C420.5,812.9 422.0,811.4 423.6,810.0C425.1,808.7 426.7,807.3 428.1,806.0C429.4,804.7 430.5,803.4 431.7,802.2C432.9,801.0 434.0,800.2 435.3,798.8C437.0,797.1 438.9,793.6 440.7,792.5C441.9,791.8 443.1,791.9 444.3,791.6C445.5,791.3 446.7,791.1 447.9,790.7C449.1,790.3 450.3,789.7 451.5,789.1C452.7,788.5 453.9,787.7 455.1,787.1C456.3,786.5 457.5,786.1 458.8,785.6C460.0,785.1 461.0,784.0 462.4,783.9C464.0,783.8 466.1,784.4 467.8,785.3C469.7,786.3 471.6,788.3 473.2,789.8C474.6,791.1 475.6,792.4 476.8,793.7C478.0,795.1 479.2,796.3 480.4,797.9C481.9,799.9 483.4,802.6 484.9,805.1C486.5,807.7 487.6,811.3 489.5,813.3C491.1,815.0 493.0,816.2 494.9,816.9C496.6,817.6 498.5,817.0 500.3,817.8C502.5,818.8 504.4,821.7 506.6,823.2C508.6,824.6 510.9,826.7 512.9,826.8C514.8,826.9 516.8,825.6 518.4,824.1C520.5,822.1 522.1,818.3 523.8,815.1C525.7,811.7 527.3,806.6 529.2,804.2C530.4,802.7 531.6,802.3 532.8,801.2C534.0,800.2 535.1,798.9 536.4,797.9C537.8,796.9 539.4,796.2 540.9,795.3C542.4,794.4 543.9,793.3 545.4,792.5C546.9,791.8 548.4,791.4 550.0,790.8C551.5,790.2 553.0,789.3 554.5,788.9C556.0,788.5 557.5,788.5 559.0,788.2C560.5,787.9 562.1,787.2 563.5,787.1C564.7,787.0 565.8,787.4 567.0,787.5C568.2,787.5 569.3,787.6 570.5,787.7C571.7,787.7 572.8,787.6 574.0,787.7C575.2,787.8 576.3,788.1 577.5,788.2C578.7,788.3 579.8,788.3 581.0,788.2C582.2,788.1 583.4,788.0 584.6,787.8C585.8,787.5 587.0,786.9 588.2,786.7C589.4,786.4 590.6,786.5 591.8,786.3C593.0,786.1 594.2,785.8 595.4,785.6C596.6,785.3 597.8,785.0 599.0,784.8C600.3,784.5 601.5,784.4 602.7,784.1C603.9,783.9 605.1,783.6 606.3,783.4C607.5,783.2 608.7,783.2 609.9,783.0C611.1,782.7 612.3,782.3 613.5,782.1C614.7,781.8 615.9,781.4 617.1,781.4C618.3,781.3 619.6,781.7 620.8,781.8C622.0,781.9 623.3,781.7 624.5,781.8C625.8,781.9 627.0,782.1 628.2,782.3C629.5,782.4 630.7,782.5 631.9,782.5C633.2,782.5 634.4,782.4 635.6,782.5C636.9,782.5 638.1,782.7 639.3,782.8C640.6,782.9 641.8,783.1 643.1,783.2C644.3,783.3 645.5,783.3 646.8,783.3C648.0,783.3 649.2,783.4 650.5,783.4C651.7,783.4 652.9,783.4 654.2,783.5C655.4,783.6 656.6,783.7 657.9,783.8C659.1,783.9 660.4,784.1 661.6,784.2C662.8,784.3 664.0,784.4 665.3,784.3C666.6,784.2 668.0,783.6 669.4,783.3C670.7,783.1 672.1,783.2 673.5,782.9C674.8,782.6 676.2,782.1 677.5,781.8C678.9,781.5 680.3,781.1 681.6,781.1C682.9,781.1 684.1,781.5 685.3,781.6C686.5,781.7 687.8,781.6 689.0,781.7C690.2,781.8 691.5,782.2 692.7,782.3C693.9,782.5 695.2,782.5 696.4,782.6C697.6,782.6 698.9,782.7 700.1,782.8C701.3,782.9 702.6,783.0 703.8,783.1C705.0,783.3 706.3,783.4 707.5,783.5C708.7,783.7 710.0,783.8 711.2,783.8C712.4,783.9 713.7,784.0 714.9,784.0C716.1,784.1 717.4,784.2 718.6,784.3C719.8,784.5 721.1,784.6 722.3,784.8C723.5,785.0 724.8,785.2 726.0,785.4C727.2,785.5 728.5,785.5 729.7,785.5C730.9,785.6 732.2,785.5 733.4,785.6C734.6,785.7 735.9,786.2 737.1,786.3C738.3,786.5 739.6,786.4 740.8,786.5C742.0,786.6 743.1,786.8 744.3,786.9C745.5,787.0 746.6,787.2 747.8,787.3C749.0,787.3 750.2,787.1 751.3,787.2C752.5,787.3 753.6,787.7 754.8,787.8C756.0,787.9 757.2,787.7 758.3,787.8C759.5,787.8 760.7,788.2 761.8,788.3C763.0,788.5 764.2,788.4 765.3,788.5C766.5,788.5 767.7,788.6 768.8,788.7C770.0,788.9 771.2,789.3 772.3,789.3C773.5,789.4 774.7,789.2 775.8,789.3C777.0,789.3 778.2,789.6 779.4,789.8C780.5,789.9 781.7,790.1 782.9,790.2C784.0,790.3 785.2,790.2 786.4,790.2C787.5,790.3 788.7,790.3 789.9,790.5C791.0,790.6 792.2,791.0 793.4,791.1C794.5,791.2 795.7,791.1 796.9,791.2C798.1,791.3 799.2,791.6 800.4,791.6C801.6,791.7 802.7,791.5 803.9,791.6C805.1,791.6 806.2,791.9 807.4,792.0C808.6,792.2 809.7,792.4 810.9,792.4C812.1,792.4 813.4,792.0 814.7,791.8C815.9,791.7 817.2,791.8 818.4,791.7C819.7,791.5 820.9,791.1 822.2,791.0C823.5,790.9 824.7,791.2 826.0,791.0C827.2,790.9 828.5,790.3 829.8,790.2C831.0,790.0 832.3,790.2 833.5,790.1C834.8,790.0 836.0,789.5 837.3,789.4C838.5,789.2 839.8,789.1 841.1,789.1C842.3,789.0 843.6,789.1 844.8,789.0C846.1,788.8 847.4,788.6 848.6,788.4C849.8,788.2 851.0,787.9 852.2,787.7C853.4,787.5 854.6,787.3 855.8,787.2C857.0,787.0 858.2,787.0 859.4,786.9C860.6,786.7 861.8,786.4 863.0,786.2C864.2,785.9 865.4,785.6 866.6,785.5C867.8,785.3 869.0,785.6 870.2,785.4C871.4,785.2 872.5,784.7 873.8,784.4C874.9,784.2 876.1,784.0 877.3,783.8C878.5,783.7 879.7,783.4 880.9,783.3C882.1,783.2 883.3,783.3 884.5,783.2C885.7,783.1 887.0,783.2 888.1,782.9C889.4,782.6 890.5,781.5 891.7,781.2C892.9,780.9 894.1,781.3 895.3,781.1C896.5,780.9 897.7,780.1 898.9,780.0C900.1,779.9 901.3,780.2 902.5,780.3C903.7,780.4 905.0,780.2 906.2,780.3C907.4,780.4 908.6,780.9 909.8,781.0C911.1,781.1 912.3,781.0 913.5,781.1C914.7,781.2 916.0,781.5 917.2,781.5C918.4,781.5 919.6,781.3 920.9,781.4C922.1,781.4 923.3,781.6 924.5,781.7C925.8,781.7 927.0,781.6 928.2,781.5C929.4,781.4 930.7,781.3 931.9,781.2C933.1,781.1 934.3,780.8 935.6,780.9C936.8,781.0 938.0,781.7 939.2,781.8C940.4,781.9 941.6,781.6 942.9,781.6C944.3,781.6 945.7,781.8 947.2,781.9C948.6,782.0 950.0,781.9 951.5,782.1C952.9,782.4 954.3,783.1 955.7,783.4C957.1,783.7 958.5,784.0 960.0,784.1C961.6,784.2 963.5,783.5 965.1,784.1C966.9,784.8 968.5,787.4 970.2,788.4C971.6,789.2 973.0,789.6 974.5,789.9C975.8,790.2 977.5,789.3 978.7,790.1C980.4,791.2 981.3,794.8 982.5,797.3C983.8,799.9 985.0,802.8 986.4,805.5C987.6,808.0 988.9,810.4 990.2,812.9C991.5,815.5 992.5,817.2 994.0,820.7C996.7,827.2 1001.0,843.2 1004.2,849.6C1006.0,853.1 1007.4,857.0 1009.3,857.3C1010.9,857.5 1012.6,853.9 1014.4,853.0C1016.0,852.2 1017.8,852.2 1019.5,851.8C1021.2,851.4 1023.0,850.5 1024.6,850.5C1026.1,850.5 1027.5,850.9 1028.8,851.3C1030.3,851.7 1031.9,853.5 1033.1,853.0C1035.0,852.2 1036.0,846.7 1037.3,843.4C1038.8,839.9 1039.9,837.1 1041.6,832.6C1044.3,825.3 1049.0,810.1 1051.9,803.7C1053.5,800.3 1054.7,798.6 1056.2,796.2C1057.5,793.8 1058.7,790.4 1060.4,789.2C1061.7,788.4 1063.2,788.8 1064.7,788.5C1066.1,788.2 1067.6,787.0 1068.9,787.5C1070.6,788.2 1071.7,791.7 1073.2,793.8C1074.6,795.9 1076.0,797.8 1077.4,800.3C1079.2,803.5 1080.8,807.7 1082.5,811.6C1084.2,815.7 1085.0,822.6 1087.6,824.1C1089.4,825.2 1092.5,822.4 1094.4,823.3C1096.6,824.4 1097.8,828.7 1099.5,831.4C1101.2,834.1 1102.8,839.5 1104.6,839.4C1106.8,839.3 1109.2,826.9 1111.4,826.7C1113.1,826.6 1114.8,831.1 1116.5,833.5C1118.2,835.9 1120.1,841.2 1121.6,841.1C1123.2,840.9 1124.2,834.7 1125.6,831.5C1126.9,828.4 1128.2,825.4 1129.5,822.4C1130.8,819.5 1131.8,814.6 1133.5,813.9C1134.6,813.4 1136.2,814.9 1137.5,815.5C1138.8,816.1 1140.1,816.7 1141.4,817.4C1142.8,818.2 1144.2,820.2 1145.4,819.9C1147.0,819.5 1148.2,815.2 1149.7,812.8C1151.1,810.4 1152.6,807.9 1153.9,805.4C1155.3,802.9 1156.5,800.3 1157.8,797.8C1159.0,795.2 1160.1,790.3 1161.6,790.1C1163.0,789.9 1164.6,793.5 1166.2,794.9C1167.8,796.3 1169.4,798.6 1170.9,798.6C1172.3,798.6 1173.5,796.5 1174.8,795.3C1176.1,794.0 1177.3,790.9 1178.6,790.9C1180.1,790.9 1181.6,794.6 1183.2,796.2C1184.8,797.7 1186.5,798.4 1187.9,800.3C1189.9,803.0 1191.3,808.0 1193.0,811.9C1194.7,815.9 1196.4,819.2 1198.1,824.1C1200.4,831.0 1202.7,840.5 1204.9,849.6C1207.4,860.0 1209.1,882.5 1212.0,883.2C1213.2,883.5 1214.7,879.8 1216.0,878.2C1217.3,876.5 1218.7,873.1 1220.0,873.3C1221.9,873.5 1224.2,881.4 1225.9,885.2C1227.4,888.5 1228.6,891.5 1229.9,894.8C1231.3,898.1 1231.9,902.6 1233.9,905.0C1235.5,907.0 1237.9,908.6 1239.9,909.0C1241.6,909.3 1243.2,908.4 1244.8,908.1C1246.5,907.8 1248.3,907.8 1249.8,907.0C1251.4,906.1 1252.5,904.2 1253.8,902.7C1255.1,901.2 1256.4,898.3 1257.8,898.1C1259.2,898.0 1260.7,900.4 1262.2,901.4C1263.7,902.4 1265.3,904.3 1266.7,904.0C1268.4,903.6 1269.7,899.9 1271.2,897.8C1272.7,895.6 1274.0,892.7 1275.6,891.1C1276.7,890.0 1277.9,889.5 1279.1,888.8C1280.2,888.2 1281.5,888.4 1282.6,887.1C1285.4,883.8 1287.4,869.9 1289.5,863.3C1291.0,858.6 1291.9,854.4 1293.5,851.4C1294.7,849.2 1296.1,848.0 1297.5,846.4C1298.8,844.7 1300.1,843.5 1301.4,841.5C1303.1,838.9 1304.7,834.9 1306.3,831.6C1308.0,828.3 1309.3,822.2 1311.3,821.7C1312.7,821.3 1314.3,823.5 1315.8,824.6C1317.4,825.7 1319.0,828.9 1320.3,828.6C1322.3,828.1 1323.6,820.5 1325.2,815.7C1327.2,809.8 1328.7,800.3 1331.2,795.9C1332.7,793.3 1334.5,792.1 1336.2,790.4C1337.8,788.8 1339.4,786.8 1341.1,786.0C1342.4,785.4 1343.8,785.6 1345.1,785.3C1346.4,785.0 1347.7,784.5 1349.0,784.3C1350.4,784.2 1351.7,784.6 1353.0,784.5C1354.4,784.3 1355.7,783.7 1357.0,783.6C1358.3,783.5 1359.6,783.7 1361.0,783.8C1362.3,783.8 1363.6,783.8 1364.9,784.1C1366.3,784.3 1367.6,784.7 1368.9,785.0C1370.2,785.3 1371.6,785.5 1372.9,785.8C1374.2,786.2 1375.5,786.7 1376.8,787.1C1378.2,787.5 1379.5,787.9 1380.8,788.3C1382.2,788.8 1383.4,789.3 1384.8,789.9C1386.3,790.5 1387.9,791.3 1389.4,791.9C1391.0,792.6 1392.5,793.2 1394.1,793.9C1395.6,794.5 1397.0,795.4 1398.7,795.9C1400.7,796.5 1403.8,795.6 1405.6,796.9C1407.8,798.5 1408.6,803.0 1410.0,806.1C1411.5,809.2 1412.7,815.2 1414.5,815.7C1415.7,816.0 1417.2,813.9 1418.5,812.9C1419.8,811.9 1421.1,810.1 1422.5,809.8C1423.7,809.5 1424.9,810.2 1426.1,810.6C1427.3,811.1 1428.4,812.1 1429.6,812.6C1430.8,813.2 1432.0,813.5 1433.2,813.9C1434.4,814.3 1435.6,814.5 1436.7,814.8C1437.9,815.1 1439.1,815.8 1440.3,815.7C1441.8,815.6 1443.4,814.3 1444.9,813.7C1446.5,813.0 1448.0,812.4 1449.6,811.8C1451.1,811.1 1452.8,810.8 1454.2,809.8C1455.7,808.6 1456.9,806.6 1458.2,804.9C1459.5,803.2 1460.8,801.0 1462.1,799.3C1463.4,797.7 1464.6,795.4 1466.1,794.9C1467.3,794.5 1468.7,795.5 1470.0,795.8C1471.4,796.1 1472.6,797.1 1474.0,796.9C1475.6,796.7 1477.3,794.9 1479.0,793.9C1480.7,792.9 1482.4,791.8 1484.0,790.9C1485.4,790.1 1486.6,789.3 1488.0,788.6C1489.3,787.8 1490.6,787.1 1491.9,786.5C1493.2,785.9 1494.6,785.2 1495.9,785.0C1497.2,784.8 1498.5,785.4 1499.9,785.4C1501.2,785.3 1502.5,784.9 1503.8,784.8C1505.2,784.8 1506.5,784.6 1507.8,785.0C1509.2,785.5 1510.5,788.2 1511.7,787.9C1513.3,787.5 1515.7,780.0 1515.7,780.0" stroke="#d90000" stroke-width="5.5" fill="none" stroke-linejoin="round"/>
<path d="M63.1,883.5C63.1,883.5 67.0,881.8 68.5,882.2C70.0,882.6 70.8,885.5 72.2,885.8C73.5,886.1 75.3,884.5 76.7,884.4C78.0,884.3 79.1,884.8 80.3,885.1C81.5,885.4 82.7,886.4 83.9,886.3C85.2,886.2 86.6,884.0 88.0,884.0C89.3,884.0 90.8,886.4 92.0,886.3C93.0,886.3 93.7,884.4 94.7,884.4C96.0,884.4 97.5,886.7 99.2,887.6C101.1,888.6 103.9,890.2 105.6,889.9C106.9,889.7 107.7,887.5 108.7,887.6C109.8,887.7 110.8,891.3 111.9,891.2C113.3,891.1 114.6,884.5 116.0,884.4C117.2,884.3 118.5,887.2 119.8,888.5C121.1,889.9 122.5,892.8 123.6,892.6C125.0,892.4 125.7,885.1 127.2,884.9C128.5,884.7 130.0,888.7 131.7,889.9C133.2,891.0 135.3,892.5 136.7,892.1C138.4,891.6 139.1,886.7 140.8,885.8C142.1,885.1 143.8,885.7 145.3,885.7C146.8,885.7 148.4,885.3 149.8,885.8C151.4,886.4 152.7,888.5 154.3,889.4C155.7,890.2 157.4,891.6 158.8,891.2C160.5,890.7 161.6,885.9 163.4,885.3C165.0,884.8 167.3,885.6 168.8,886.7C170.5,888.0 170.8,892.4 172.4,893.0C173.9,893.6 176.0,891.8 177.8,891.2C179.6,890.6 181.6,890.1 183.2,889.4C184.6,888.8 185.7,886.9 186.8,887.2C188.2,887.5 189.0,892.5 190.4,893.0C191.5,893.4 192.7,892.2 194.0,891.7C195.5,891.1 197.1,889.1 198.6,889.4C200.7,889.9 202.8,896.7 204.9,897.1C206.4,897.4 207.8,894.4 209.4,894.4C211.3,894.4 214.0,896.8 215.8,898.0C217.3,899.0 218.4,900.2 219.8,901.1C221.0,902.0 222.4,902.8 223.7,903.5C224.9,904.2 226.1,905.2 227.4,905.5C228.6,905.7 229.9,904.8 231.1,905.2C232.4,905.6 233.4,907.5 234.8,908.2C236.1,908.9 237.7,908.6 239.0,909.4C240.6,910.6 241.6,913.9 243.2,915.1C244.5,916.1 246.1,916.9 247.4,916.9C248.6,916.9 249.8,915.8 250.9,915.7C252.1,915.6 253.3,915.6 254.5,916.1C255.9,916.7 257.3,917.8 258.5,919.2C260.0,920.8 260.9,924.2 262.4,925.7C263.6,926.9 265.0,927.4 266.4,928.0C267.8,928.6 269.2,928.8 270.6,929.5C272.0,930.2 273.3,931.7 274.8,932.3C276.1,932.8 277.6,932.3 279.0,932.7C280.6,933.1 282.2,934.2 283.8,935.0C285.3,935.8 287.0,936.7 288.5,937.5C289.8,938.3 290.9,939.4 292.2,939.8C293.3,940.2 294.7,939.5 295.8,940.0C297.1,940.5 298.2,942.2 299.5,943.0C300.6,943.7 301.9,943.9 303.1,944.5C304.3,945.0 305.4,946.0 306.6,946.3C307.8,946.5 309.0,946.0 310.2,946.1C311.4,946.2 312.6,946.6 313.8,947.0C315.0,947.4 316.1,948.2 317.3,948.6C318.4,948.9 319.6,949.3 320.7,949.1C321.9,949.0 323.1,947.6 324.2,947.9C325.4,948.1 326.4,950.5 327.6,951.0C328.7,951.4 329.9,950.9 331.1,950.9C332.3,950.9 333.6,951.2 334.9,951.0C336.2,950.9 337.4,950.3 338.7,949.9C340.0,949.5 341.3,948.6 342.5,948.8C343.8,949.1 345.0,951.3 346.3,951.5C347.5,951.7 348.8,950.2 350.1,950.1C351.3,950.0 352.4,950.4 353.6,950.8C354.8,951.2 355.9,951.9 357.1,952.4C358.2,952.9 359.4,953.5 360.5,953.8C361.7,954.0 362.9,954.0 364.0,954.0C365.2,954.1 366.3,953.9 367.5,954.1C368.7,954.3 370.0,955.4 371.2,955.3C372.4,955.1 373.6,953.3 374.9,953.2C376.1,953.1 377.3,954.4 378.6,954.3C379.8,954.3 381.0,952.9 382.2,952.8C383.5,952.8 384.7,954.3 385.9,954.2C387.2,954.2 388.3,952.7 389.6,952.5C390.9,952.3 392.3,953.2 393.6,952.8C395.0,952.3 396.1,949.9 397.5,949.1C398.7,948.5 400.1,948.4 401.4,948.3C402.8,948.2 404.1,948.8 405.4,948.5C406.8,948.2 408.0,946.5 409.3,946.4C410.6,946.3 412.0,947.9 413.3,947.7C414.7,947.5 415.9,945.4 417.2,944.8C418.5,944.2 419.9,944.1 421.2,943.8C422.5,943.4 423.9,943.3 425.1,942.7C426.5,942.0 427.7,940.6 429.1,940.0C430.4,939.4 431.8,939.5 433.1,939.1C434.4,938.7 435.7,938.0 437.0,937.5C438.3,937.0 439.6,936.5 440.9,936.1C442.3,935.7 443.6,935.2 444.9,935.0C446.2,934.8 447.5,935.0 448.9,934.8C450.2,934.5 451.5,933.9 452.8,933.5C454.1,933.1 455.4,932.8 456.8,932.6C458.1,932.5 459.4,932.8 460.7,932.5C462.1,932.2 463.3,931.2 464.7,930.6C466.0,930.0 467.3,928.8 468.6,928.8C469.9,928.8 471.2,930.2 472.6,930.5C473.9,930.7 475.3,930.3 476.6,930.4C477.9,930.5 479.3,931.2 480.6,931.1C482.0,930.9 483.3,929.5 484.6,929.6C486.1,929.7 487.5,931.7 489.0,932.2C490.4,932.7 492.0,932.0 493.4,932.5C495.0,933.1 496.3,935.3 497.8,935.7C499.0,936.0 500.2,935.6 501.4,935.3C502.7,935.0 503.9,934.7 505.1,934.0C506.4,933.3 507.4,931.3 508.7,930.8C509.8,930.4 511.2,931.3 512.3,931.0C513.6,930.6 514.7,929.1 515.9,928.6C517.1,928.2 518.4,928.5 519.5,927.9C520.8,927.3 521.9,925.3 523.1,925.0C524.3,924.8 525.6,926.1 526.8,925.9C528.0,925.8 529.2,924.6 530.4,923.9C531.6,923.1 532.7,922.1 534.0,921.7C535.2,921.3 536.4,921.6 537.6,921.2C538.8,920.8 539.9,919.3 541.1,919.3C542.3,919.4 543.3,921.2 544.6,921.6C545.7,921.9 547.0,922.1 548.0,921.7C549.3,921.2 550.3,918.4 551.5,918.2C552.6,918.1 553.8,920.2 555.0,920.2C556.1,920.3 557.3,919.0 558.5,918.5C559.6,918.0 560.8,917.4 561.9,917.2C563.1,917.0 564.3,917.2 565.4,917.3C566.6,917.4 567.7,917.5 568.9,917.6C570.1,917.7 571.3,918.0 572.5,918.0C573.7,918.1 575.0,918.4 576.1,917.9C577.5,917.4 578.5,914.8 579.8,914.6C580.9,914.4 582.2,916.2 583.4,916.1C584.6,915.9 585.8,913.7 587.0,913.7C588.2,913.6 589.4,915.5 590.6,915.5C591.8,915.5 593.0,913.7 594.2,913.7C595.4,913.6 596.6,914.9 597.9,915.1C599.0,915.3 600.3,915.3 601.5,914.9C602.7,914.5 603.8,913.2 605.1,912.8C606.3,912.4 607.5,912.2 608.7,912.3C609.9,912.5 611.2,913.7 612.3,913.5C613.6,913.3 614.7,911.4 615.9,910.7C617.1,910.1 618.3,909.4 619.5,909.4C620.7,909.4 622.0,910.9 623.2,910.7C624.4,910.6 625.5,908.7 626.8,908.3C627.9,908.0 629.2,908.4 630.4,908.4C631.6,908.5 632.8,908.6 634.0,908.6C635.2,908.7 636.4,909.0 637.6,908.9C638.8,908.7 640.0,908.3 641.2,908.0C642.4,907.7 643.7,907.3 645.0,907.2C646.2,907.0 647.5,906.7 648.7,907.1C650.1,907.6 651.2,910.0 652.5,910.2C653.7,910.4 655.0,908.7 656.2,908.6C657.5,908.6 658.8,909.2 660.0,909.6C661.2,910.0 662.2,910.9 663.4,911.2C664.5,911.4 665.6,911.3 666.7,910.9C667.9,910.6 668.9,909.4 670.1,909.2C671.2,909.0 672.3,909.4 673.5,909.5C674.6,909.5 675.7,909.6 676.8,909.7C677.9,909.8 679.1,910.0 680.2,910.1C681.3,910.1 682.4,910.0 683.5,909.9C684.7,909.8 685.8,909.8 686.9,909.6C688.1,909.4 689.3,908.8 690.5,908.5C691.7,908.1 692.9,907.8 694.1,907.3C695.3,906.9 696.4,905.7 697.7,905.6C699.0,905.5 700.4,906.8 701.7,906.9C703.1,907.1 704.4,906.5 705.8,906.5C707.1,906.5 708.8,906.7 709.8,906.9C710.5,907.0 710.9,906.8 711.4,907.3C712.8,908.7 713.4,916.2 714.3,920.5C715.1,924.7 715.8,928.4 716.5,933.0C717.3,938.5 718.0,944.5 718.7,951.4C719.5,960.0 720.3,972.4 720.9,980.7C721.3,986.9 721.4,996.8 722.0,996.8C722.6,996.8 723.7,985.7 724.5,980.0C725.3,974.2 725.5,962.6 726.8,962.4C727.7,962.3 728.6,969.4 730.4,970.4C731.8,971.2 734.3,971.1 735.6,969.7C738.6,966.7 737.0,948.9 738.5,944.0C739.1,941.8 739.9,941.4 740.7,939.6C742.0,936.7 743.3,931.7 745.1,927.9C746.9,924.0 749.7,919.7 751.6,916.3C753.0,913.7 753.8,910.4 755.4,909.5C756.6,908.8 758.4,910.0 759.7,909.6C760.9,909.2 761.9,908.0 763.1,907.4C764.1,906.9 765.3,906.7 766.4,906.0C767.6,905.2 768.6,903.8 769.8,903.0C770.8,902.3 772.0,901.2 773.1,901.5C774.9,901.9 776.8,908.2 778.5,908.3C779.8,908.4 780.8,905.7 782.1,904.7C783.2,903.9 784.6,903.8 785.7,902.9C787.0,901.9 788.1,898.6 789.3,898.8C790.9,899.0 792.4,905.1 794.0,908.3C795.6,911.4 797.3,917.7 798.7,917.7C799.9,917.7 801.0,912.8 802.1,910.4C803.2,907.9 804.0,903.3 805.5,902.9C806.6,902.6 808.3,904.7 809.5,905.9C811.0,907.3 812.2,910.6 813.6,910.9C814.7,911.2 815.8,909.8 817.0,909.4C818.1,909.0 819.2,908.9 820.3,908.4C821.5,907.8 822.5,906.4 823.6,906.0C824.7,905.6 825.9,905.1 827.0,905.6C828.9,906.5 830.7,913.5 832.4,913.6C833.7,913.7 834.8,910.8 836.0,909.4C837.2,907.9 838.4,906.4 839.6,904.9C840.8,903.4 842.1,900.0 843.2,900.2C844.9,900.5 845.8,915.0 847.2,915.0C849.2,915.0 851.9,885.4 854.0,885.4C855.9,885.4 857.0,907.9 859.4,908.3C860.9,908.6 863.4,899.9 864.7,900.2C866.3,900.5 865.5,914.1 867.4,915.0C868.4,915.5 870.1,913.2 871.5,912.8C872.8,912.4 874.3,913.3 875.5,912.3C878.2,910.0 878.9,892.3 880.9,892.1C882.2,892.0 883.9,900.3 885.0,900.2C886.2,900.1 886.5,889.4 887.6,889.4C888.7,889.3 889.7,900.3 891.7,901.5C892.8,902.2 894.4,901.1 895.7,900.8C897.1,900.4 898.4,899.7 899.8,899.4C901.1,899.1 902.4,899.2 903.8,898.9C905.1,898.5 906.7,897.0 907.8,897.5C909.2,898.1 909.4,904.1 910.5,904.2C911.5,904.3 912.9,900.9 914.1,899.4C915.3,898.0 916.5,897.0 917.7,895.6C918.9,894.1 919.9,891.0 921.3,890.7C922.5,890.5 924.0,892.5 925.3,893.2C926.7,893.9 928.1,894.9 929.4,894.8C930.6,894.8 931.6,893.5 932.8,893.2C933.9,892.8 935.0,892.6 936.1,892.6C937.3,892.6 938.4,893.2 939.5,893.1C940.7,893.1 941.8,892.3 942.9,892.1C944.0,891.9 945.2,892.4 946.2,892.0C947.4,891.6 948.4,890.1 949.6,889.6C950.7,889.1 951.8,889.2 952.9,888.9C954.1,888.7 955.2,888.2 956.3,888.0C957.4,887.8 958.6,887.9 959.7,887.7C960.8,887.5 962.0,887.0 963.1,886.7C964.2,886.5 965.4,886.5 966.5,886.4C967.6,886.3 968.7,886.2 969.9,886.2C971.4,886.2 973.2,886.2 974.8,886.3C976.5,886.5 978.2,887.0 979.8,887.2C981.2,887.4 982.5,887.3 983.8,887.4C985.1,887.6 986.6,887.5 987.8,888.2C989.3,889.1 990.4,891.7 991.8,893.3C993.1,894.9 994.4,896.1 995.7,897.7C997.1,899.3 998.4,901.1 999.7,903.0C1001.2,905.1 1002.7,907.4 1004.2,909.7C1005.7,912.0 1007.1,913.7 1008.6,916.9C1011.0,922.1 1013.5,931.3 1015.6,938.8C1017.8,946.5 1019.6,954.3 1021.5,962.6C1023.6,971.5 1025.4,981.8 1027.5,990.4C1029.3,997.9 1031.1,1011.2 1033.0,1011.2C1034.7,1011.2 1036.8,1000.8 1038.4,994.3C1040.5,985.8 1041.6,972.6 1043.4,964.6C1044.6,959.1 1045.9,956.0 1047.3,950.7C1049.1,943.8 1051.0,931.9 1053.3,926.9C1054.5,924.3 1056.0,923.4 1057.2,921.4C1058.6,919.4 1059.8,916.9 1061.2,914.9C1062.5,913.1 1063.7,911.4 1065.2,910.0C1066.4,908.8 1067.7,908.2 1069.1,907.0C1070.9,905.4 1073.2,901.6 1075.1,901.1C1076.4,900.7 1077.7,901.9 1079.0,902.2C1080.4,902.5 1081.9,903.4 1083.0,903.0C1084.2,902.5 1084.9,899.1 1086.0,899.1C1087.5,899.2 1089.3,904.0 1091.0,907.0C1093.0,910.5 1095.2,913.7 1096.9,918.9C1099.7,927.5 1100.9,944.2 1102.9,954.6C1104.5,962.8 1106.1,976.5 1107.8,976.5C1109.4,976.5 1111.1,965.0 1112.8,958.6C1114.8,951.2 1116.4,939.6 1118.8,934.8C1120.0,932.3 1121.5,931.6 1122.8,929.8C1124.1,928.0 1125.1,924.9 1126.7,923.9C1127.9,923.1 1129.3,923.4 1130.7,923.2C1132.0,923.0 1133.3,922.7 1134.6,922.7C1136.0,922.6 1137.3,922.5 1138.6,922.9C1140.0,923.4 1141.2,924.8 1142.5,925.5C1143.8,926.1 1145.2,926.3 1146.5,926.9C1147.7,927.4 1148.9,928.0 1150.0,928.8C1151.2,929.7 1152.5,932.0 1153.5,931.8C1154.9,931.5 1155.8,926.9 1157.0,924.7C1158.1,922.7 1159.2,920.6 1160.4,918.9C1161.5,917.4 1162.6,916.1 1163.7,914.8C1164.8,913.6 1166.0,912.6 1167.1,911.4C1168.2,910.0 1169.3,908.4 1170.4,907.0C1171.5,905.6 1172.7,904.0 1173.9,902.7C1175.0,901.6 1176.2,900.8 1177.3,899.7C1178.5,898.6 1179.7,897.4 1180.8,896.2C1182.0,895.2 1183.2,894.3 1184.3,893.1C1185.5,891.7 1186.6,890.0 1187.8,888.3C1189.0,886.4 1190.1,882.2 1191.2,882.2C1192.4,882.2 1193.5,887.1 1194.7,889.5C1195.8,892.0 1196.7,895.0 1198.1,897.1C1199.3,898.9 1200.6,900.5 1202.1,901.8C1203.3,902.9 1204.8,903.3 1206.0,904.4C1207.4,905.6 1208.7,907.8 1210.0,909.0C1211.1,910.0 1212.3,910.4 1213.3,911.3C1214.5,912.3 1215.5,913.6 1216.7,914.6C1217.7,915.5 1218.7,916.6 1220.0,916.9C1221.4,917.2 1223.5,915.1 1224.9,915.9C1227.4,917.3 1228.5,925.2 1229.9,930.8C1231.7,937.7 1231.7,950.3 1234.0,954.6C1235.1,956.7 1236.6,957.3 1238.0,958.4C1239.2,959.3 1240.5,960.6 1241.9,960.6C1243.5,960.6 1245.5,957.0 1246.9,957.6C1249.6,958.7 1250.2,969.6 1251.8,978.4C1254.6,993.6 1256.7,1040.8 1259.8,1040.9C1262.7,1041.0 1266.7,1005.6 1269.7,988.3C1272.6,971.5 1275.4,952.2 1277.6,938.7C1279.1,929.3 1278.5,918.0 1281.6,914.9C1283.1,913.4 1285.8,913.4 1287.5,913.9C1289.1,914.4 1290.2,916.5 1291.5,917.8C1292.8,919.1 1294.2,922.2 1295.5,921.9C1298.1,921.3 1299.7,902.8 1302.4,899.0C1303.6,897.3 1305.1,896.1 1306.4,896.1C1307.6,896.1 1308.7,897.9 1309.8,899.0C1311.0,900.2 1312.0,901.6 1313.3,903.0C1315.0,904.8 1317.6,909.4 1319.3,909.0C1322.0,908.3 1322.4,893.3 1325.2,889.1C1326.9,886.5 1329.1,884.6 1331.2,884.2C1333.1,883.9 1335.4,884.4 1337.1,886.2C1340.8,890.2 1341.9,914.7 1344.1,914.9C1345.2,915.0 1346.2,910.0 1347.4,907.9C1348.5,905.9 1349.6,904.3 1350.7,902.4C1351.8,900.4 1352.9,896.0 1354.0,896.1C1355.6,896.2 1357.3,910.0 1359.0,910.0C1360.9,910.0 1362.3,892.4 1364.9,891.1C1366.1,890.5 1367.6,891.8 1368.9,892.5C1370.3,893.2 1371.7,893.7 1372.9,895.1C1374.6,897.1 1375.1,902.5 1376.8,904.0C1377.9,905.0 1379.5,904.9 1380.8,905.1C1382.1,905.3 1383.7,905.7 1384.8,905.0C1386.2,904.1 1386.8,898.9 1387.7,899.0C1389.5,899.2 1390.0,921.1 1392.7,921.9C1394.3,922.4 1397.1,915.5 1398.7,915.9C1400.9,916.5 1401.3,932.8 1402.6,932.8C1404.3,932.7 1405.9,902.0 1407.6,902.0C1408.9,902.0 1410.1,920.9 1411.5,920.9C1412.8,920.9 1414.2,905.0 1415.5,905.0C1416.8,905.0 1418.0,920.9 1419.4,920.9C1420.7,920.9 1421.9,906.1 1423.5,906.0C1424.9,905.9 1426.9,917.9 1428.4,917.9C1429.9,917.9 1431.0,906.1 1432.4,906.0C1433.6,905.9 1434.9,915.0 1436.3,914.9C1438.2,914.8 1440.5,897.0 1442.3,897.1C1444.6,897.2 1446.1,926.8 1448.3,926.8C1450.7,926.8 1454.0,892.0 1456.2,892.1C1458.3,892.2 1458.7,916.4 1461.2,922.9C1462.5,926.3 1464.1,927.8 1465.7,930.0C1467.1,932.1 1468.8,936.1 1470.1,935.8C1472.8,935.1 1473.5,903.0 1475.0,903.0C1476.1,903.0 1476.5,914.8 1478.0,918.9C1479.1,921.8 1480.9,926.0 1482.0,925.8C1484.6,925.3 1485.5,884.2 1487.0,884.2C1488.5,884.2 1489.6,926.8 1490.9,926.8C1491.9,926.8 1492.8,901.0 1493.9,901.0C1494.8,901.0 1495.9,916.9 1496.9,916.9C1498.3,916.9 1499.2,883.3 1500.8,883.2C1502.0,883.1 1503.7,900.1 1504.8,900.0C1506.2,899.9 1506.6,878.3 1507.8,869.3C1508.7,862.2 1509.5,851.5 1510.8,850.4C1511.1,850.2 1511.7,850.4 1511.7,850.4" stroke="#5ba0d8" stroke-width="2.9" fill="none" stroke-linejoin="round"/>
<path d="M58.6,1000.0C58.6,1000.0 60.7,999.9 61.7,999.9C62.8,999.9 63.8,999.8 64.9,999.8C65.9,999.9 66.9,1000.0 68.0,1000.0C69.0,1000.0 70.1,999.9 71.1,999.9C72.1,999.9 73.2,999.9 74.2,999.9C75.3,999.9 76.3,1000.0 77.4,1000.1C78.4,1000.2 79.4,1000.3 80.5,1000.4C81.5,1000.4 82.6,1000.3 83.6,1000.3C84.7,1000.3 85.7,1000.4 86.7,1000.3C87.8,1000.3 88.8,1000.1 89.9,1000.1C90.9,1000.1 91.9,1000.2 93.0,1000.2C94.0,1000.3 95.1,1000.2 96.1,1000.1C97.2,1000.1 98.2,1000.1 99.2,1000.1C100.3,1000.1 101.3,1000.1 102.4,1000.1C103.4,1000.1 104.5,1000.1 105.5,1000.2C106.5,1000.2 107.6,1000.5 108.6,1000.6C109.7,1000.6 110.7,1000.5 111.7,1000.5C112.8,1000.5 113.8,1000.6 114.9,1000.5C115.9,1000.5 117.0,1000.4 118.0,1000.4C119.0,1000.4 120.1,1000.6 121.1,1000.6C122.2,1000.5 123.2,1000.3 124.3,1000.2C125.3,1000.2 126.4,1000.3 127.4,1000.3C128.5,1000.3 129.5,1000.4 130.6,1000.5C131.6,1000.5 132.7,1000.5 133.7,1000.5C134.8,1000.5 135.8,1000.6 136.9,1000.6C137.9,1000.6 138.9,1000.4 140.0,1000.4C141.1,1000.4 142.2,1000.7 143.2,1000.7C144.3,1000.7 145.4,1000.4 146.5,1000.5C147.6,1000.5 148.6,1000.7 149.7,1000.8C150.8,1000.9 151.9,1001.0 153.0,1001.0C154.1,1001.0 155.1,1001.0 156.2,1001.0C157.3,1001.0 158.4,1001.0 159.5,1001.0C160.5,1001.1 161.6,1001.1 162.7,1001.3C163.9,1001.5 165.2,1002.0 166.5,1002.3C167.7,1002.6 169.0,1002.8 170.2,1003.2C171.5,1003.5 172.7,1003.9 174.0,1004.4C175.3,1004.9 176.7,1005.7 178.0,1006.3C179.3,1006.9 180.6,1007.0 182.0,1007.8C183.8,1008.9 185.9,1010.8 187.6,1012.9C189.7,1015.4 191.5,1019.1 193.3,1022.0C194.9,1024.7 196.4,1027.3 197.8,1029.9C199.0,1032.2 200.0,1034.6 201.2,1036.7C202.3,1038.6 203.5,1040.3 204.6,1042.0C205.7,1043.7 206.9,1045.4 208.0,1046.9C209.0,1048.2 210.0,1049.2 211.0,1050.3C212.0,1051.4 213.1,1052.5 214.1,1053.6C215.1,1054.7 216.1,1055.8 217.1,1057.1C218.2,1058.5 219.2,1060.1 220.2,1061.6C221.3,1063.0 222.3,1064.2 223.3,1065.6C224.4,1067.1 225.4,1068.6 226.5,1070.0C227.5,1071.4 228.6,1072.6 229.6,1074.1C230.8,1075.8 231.9,1077.8 233.0,1079.6C234.1,1081.3 235.3,1083.0 236.4,1084.7C237.5,1086.5 238.7,1088.3 239.8,1090.0C240.9,1091.7 242.1,1093.4 243.2,1095.1C244.3,1096.8 245.5,1098.5 246.6,1100.2C247.7,1101.9 248.9,1103.6 250.0,1105.3C251.1,1107.0 252.2,1108.7 253.4,1110.4C254.6,1112.2 255.9,1114.0 257.2,1115.9C258.4,1117.8 259.7,1119.7 260.9,1121.6C262.2,1123.6 263.5,1125.5 264.7,1127.4C265.9,1129.3 267.1,1131.1 268.4,1132.9C269.6,1134.7 270.8,1136.6 272.0,1138.1C273.0,1139.4 274.0,1140.3 275.0,1141.5C276.0,1142.6 277.1,1143.8 278.1,1145.1C279.1,1146.3 280.1,1147.7 281.1,1149.0C282.1,1150.2 283.0,1151.2 284.1,1152.5C285.4,1154.1 286.9,1156.0 288.3,1157.8C289.7,1159.7 291.1,1161.8 292.5,1163.4C293.7,1164.8 294.9,1165.8 296.1,1167.0C297.4,1168.2 298.5,1169.5 299.8,1170.6C301.1,1171.8 302.6,1172.8 304.0,1173.9C305.4,1175.0 306.9,1176.3 308.2,1177.2C309.3,1177.9 310.3,1178.3 311.4,1179.0C312.5,1179.6 313.5,1180.5 314.6,1181.1C315.6,1181.7 316.7,1182.4 317.8,1182.7C318.8,1183.0 320.0,1183.0 321.0,1183.1C322.1,1183.3 323.2,1183.6 324.3,1183.9C325.3,1184.1 326.4,1184.4 327.5,1184.5C328.7,1184.6 329.9,1184.2 331.1,1184.2C332.3,1184.1 333.5,1184.2 334.7,1184.2C335.9,1184.1 337.1,1183.9 338.3,1183.9C339.4,1183.9 340.5,1184.0 341.6,1184.1C342.7,1184.2 343.8,1184.3 345.0,1184.4C346.1,1184.6 347.2,1184.8 348.3,1184.9C349.4,1185.0 350.5,1185.1 351.6,1185.1C352.8,1185.1 354.0,1184.7 355.2,1184.6C356.4,1184.5 357.6,1184.4 358.8,1184.3C360.0,1184.2 361.3,1184.2 362.4,1183.9C363.5,1183.6 364.6,1183.0 365.6,1182.5C366.7,1181.9 367.7,1181.0 368.8,1180.4C369.8,1179.9 370.9,1179.7 372.0,1179.0C373.4,1178.1 374.8,1176.4 376.2,1175.2C377.6,1174.0 379.2,1173.0 380.5,1171.8C381.8,1170.6 382.9,1169.3 384.1,1168.1C385.3,1166.9 386.5,1165.9 387.7,1164.6C389.0,1163.2 390.1,1161.5 391.3,1159.9C392.5,1158.3 393.7,1156.7 394.9,1154.9C396.1,1153.0 397.3,1151.0 398.5,1149.0C399.8,1147.0 401.0,1145.0 402.2,1142.9C403.4,1140.7 404.6,1138.4 405.8,1136.1C407.0,1133.9 408.2,1131.8 409.4,1129.6C410.6,1127.4 411.6,1125.0 412.8,1122.7C413.9,1120.5 415.0,1118.2 416.1,1115.9C417.2,1113.7 418.3,1111.3 419.5,1109.3C420.5,1107.5 421.6,1106.0 422.7,1104.3C423.7,1102.6 424.8,1100.7 425.9,1099.1C426.9,1097.5 428.0,1096.0 429.0,1094.4C430.1,1092.8 431.2,1091.2 432.2,1089.5C433.3,1087.8 434.2,1086.1 435.4,1084.3C436.8,1082.3 438.5,1080.0 440.0,1078.0C441.3,1076.2 442.5,1074.7 443.7,1073.0C445.0,1071.3 446.2,1069.5 447.4,1067.7C448.7,1066.0 449.9,1064.4 451.2,1062.6C452.4,1060.9 453.6,1058.8 454.9,1057.2C456.1,1055.8 457.4,1054.7 458.6,1053.6C459.9,1052.5 461.1,1051.4 462.4,1050.3C463.6,1049.3 464.9,1048.4 466.1,1047.3C467.3,1046.2 468.5,1044.7 469.8,1043.7C471.0,1042.8 472.3,1042.4 473.5,1041.6C474.8,1040.9 476.0,1039.9 477.2,1039.2C478.5,1038.5 479.8,1038.0 481.0,1037.2C482.2,1036.5 483.4,1035.5 484.7,1034.8C485.9,1034.1 487.2,1033.6 488.4,1033.0C489.6,1032.4 490.9,1031.9 492.1,1031.2C493.3,1030.6 494.6,1029.7 495.8,1029.1C497.0,1028.4 498.3,1027.9 499.5,1027.3C500.7,1026.7 502.0,1026.2 503.2,1025.7C504.5,1025.2 505.7,1024.8 506.9,1024.3C508.2,1023.8 509.4,1023.2 510.7,1022.7C511.9,1022.2 513.2,1021.9 514.4,1021.4C515.6,1020.9 516.9,1020.3 518.1,1019.8C519.4,1019.4 520.6,1019.1 521.8,1018.6C523.1,1018.1 524.3,1017.4 525.6,1016.8C526.8,1016.3 528.1,1015.9 529.3,1015.4C530.5,1014.9 531.8,1014.4 533.0,1014.0C534.3,1013.6 535.5,1013.3 536.8,1012.9C538.0,1012.6 539.2,1012.2 540.5,1011.9C541.7,1011.5 543.0,1011.2 544.2,1010.9C545.4,1010.6 546.7,1010.6 547.9,1010.3C549.2,1010.1 550.4,1009.7 551.7,1009.4C552.9,1009.1 554.1,1008.9 555.4,1008.6C556.6,1008.4 557.9,1008.2 559.1,1008.0C560.3,1007.8 561.6,1007.4 562.8,1007.2C564.1,1007.1 565.3,1007.3 566.5,1007.1C567.8,1007.0 569.0,1006.5 570.3,1006.3C571.5,1006.1 572.8,1006.0 574.0,1005.8C575.2,1005.6 576.5,1005.4 577.7,1005.3C578.9,1005.1 580.2,1005.0 581.4,1004.8C582.6,1004.7 583.9,1004.5 585.1,1004.5C586.3,1004.4 587.6,1004.4 588.8,1004.3C589.9,1004.2 591.0,1003.9 592.1,1003.9C593.2,1003.8 594.3,1004.0 595.4,1003.9C596.5,1003.8 597.6,1003.5 598.7,1003.4C599.8,1003.2 600.9,1003.1 602.0,1003.0C603.1,1003.0 604.3,1003.1 605.4,1003.0C606.5,1002.9 607.6,1002.7 608.7,1002.6C609.8,1002.6 610.9,1002.9 612.0,1002.8C613.1,1002.7 614.2,1002.2 615.3,1002.1C616.4,1001.9 617.5,1002.0 618.6,1002.0C619.7,1002.0 620.8,1001.9 621.9,1001.9C623.0,1001.9 624.1,1001.9 625.2,1001.9C626.3,1001.8 627.4,1001.6 628.5,1001.6C629.6,1001.5 630.7,1001.7 631.8,1001.7C632.9,1001.7 634.1,1001.4 635.2,1001.3C636.3,1001.2 637.4,1001.1 638.5,1001.1C639.6,1001.0 640.7,1001.1 641.8,1001.0C642.9,1001.0 644.0,1000.7 645.1,1000.7C646.2,1000.7 647.3,1000.8 648.4,1000.8C649.5,1000.8 650.6,1000.7 651.7,1000.7C652.8,1000.7 653.9,1000.5 655.0,1000.5C656.1,1000.6 657.2,1000.8 658.3,1000.8C659.4,1000.8 660.5,1000.8 661.6,1000.7C662.7,1000.6 663.8,1000.6 664.9,1000.5C666.0,1000.4 667.1,1000.2 668.2,1000.2C669.3,1000.1 670.4,1000.2 671.5,1000.2C672.6,1000.2 673.7,1000.1 674.8,1000.1C675.9,1000.1 677.0,1000.2 678.1,1000.2C679.2,1000.2 680.2,1000.1 681.2,1000.1C682.3,1000.0 683.3,1000.0 684.4,1000.1C685.4,1000.1 686.5,1000.4 687.5,1000.4C688.5,1000.4 689.6,1000.1 690.6,1000.1C691.7,1000.0 692.7,1000.0 693.8,1000.0C694.8,1000.1 695.9,1000.4 696.9,1000.5C697.9,1000.5 699.0,1000.3 700.0,1000.3C701.1,1000.3 702.1,1000.5 703.2,1000.5C704.2,1000.5 705.2,1000.0 706.3,1000.3C707.7,1000.7 709.3,1002.6 710.8,1003.8C712.2,1005.0 713.7,1006.2 715.2,1007.4C716.7,1008.6 718.2,1009.9 719.7,1011.1C721.1,1012.2 722.6,1014.4 724.1,1014.3C725.7,1014.2 727.1,1009.8 729.0,1009.4C730.8,1009.0 733.2,1011.5 734.9,1011.4C736.3,1011.3 737.3,1010.3 738.5,1009.7C739.6,1009.1 740.8,1008.6 742.0,1008.0C743.2,1007.4 744.4,1006.8 745.6,1006.2C746.8,1005.6 747.9,1004.9 749.1,1004.3C750.3,1003.7 751.5,1002.7 752.7,1002.5C753.8,1002.3 754.8,1002.7 755.9,1002.9C756.9,1003.0 758.0,1003.3 759.0,1003.5C760.1,1003.8 761.1,1004.2 762.2,1004.4C763.2,1004.7 764.3,1004.9 765.3,1005.0C766.4,1005.2 767.4,1005.3 768.5,1005.4C769.6,1005.5 770.8,1005.8 771.9,1005.9C773.0,1006.0 774.1,1005.8 775.3,1005.9C776.4,1006.0 777.5,1006.2 778.7,1006.3C779.8,1006.5 780.9,1006.6 782.0,1006.7C783.2,1006.8 784.3,1006.8 785.4,1006.9C786.6,1007.0 787.7,1007.2 788.8,1007.3C789.9,1007.4 791.0,1007.7 792.2,1007.4C793.9,1007.0 796.4,1004.5 798.1,1004.4C799.4,1004.3 800.4,1005.2 801.6,1005.6C802.7,1006.0 803.9,1006.4 805.0,1006.8C806.2,1007.2 807.4,1007.6 808.5,1007.9C809.7,1008.3 810.9,1008.9 812.0,1009.0C813.1,1009.1 814.1,1008.8 815.2,1008.8C816.2,1008.8 817.3,1009.0 818.3,1009.0C819.4,1009.0 820.4,1009.0 821.5,1008.9C822.5,1008.8 823.6,1008.4 824.6,1008.3C825.7,1008.2 826.7,1008.5 827.8,1008.4C828.9,1008.3 830.0,1008.2 831.1,1008.0C832.2,1007.8 833.3,1007.5 834.4,1007.3C835.5,1007.0 836.6,1006.8 837.6,1006.5C838.7,1006.2 839.8,1005.7 840.9,1005.5C842.0,1005.3 843.1,1005.4 844.2,1005.3C845.3,1005.1 846.4,1005.0 847.5,1004.4C849.1,1003.6 851.0,1000.6 852.5,1000.5C853.7,1000.4 854.7,1001.8 855.8,1002.6C856.9,1003.4 857.9,1004.5 859.0,1005.3C860.1,1006.1 861.1,1007.5 862.3,1007.4C863.8,1007.3 865.7,1004.1 867.3,1003.5C868.4,1003.1 869.5,1003.4 870.6,1003.3C871.7,1003.1 872.8,1002.8 873.9,1002.6C875.0,1002.5 876.1,1002.4 877.1,1002.3C878.2,1002.3 879.3,1002.3 880.4,1002.2C881.5,1002.2 882.6,1002.0 883.7,1001.9C884.8,1001.7 885.9,1001.6 887.0,1001.5C888.1,1001.4 889.2,1001.5 890.3,1001.5C891.4,1001.4 892.5,1001.5 893.6,1001.4C894.7,1001.3 895.8,1001.0 896.9,1000.9C898.0,1000.7 899.1,1000.6 900.2,1000.6C901.3,1000.6 902.4,1000.9 903.5,1000.9C904.6,1000.9 905.7,1000.6 906.8,1000.5C907.8,1000.4 908.8,1000.2 909.8,1000.2C910.9,1000.2 911.9,1000.6 912.9,1000.5C913.9,1000.5 914.9,1000.1 915.9,1000.1C916.9,1000.0 917.9,1000.3 919.0,1000.3C920.0,1000.4 921.0,1000.3 922.0,1000.3C923.0,1000.2 924.0,1000.3 925.0,1000.2C926.0,1000.2 927.1,1000.0 928.1,1000.0C929.1,1000.0 930.1,1000.1 931.1,1000.1C932.1,1000.0 933.1,999.7 934.1,999.7C935.2,999.6 936.2,999.8 937.2,999.8C938.2,999.8 939.2,999.6 940.2,999.6C941.2,999.6 942.2,999.8 943.3,999.8C944.3,999.8 945.3,999.4 946.3,999.5C947.4,999.6 948.6,1000.1 949.8,1000.4C950.9,1000.6 952.1,1000.8 953.2,1001.0C954.4,1001.2 955.5,1001.5 956.6,1001.8C957.8,1002.0 959.0,1002.0 960.1,1002.5C961.2,1003.0 962.2,1003.9 963.2,1004.6C964.3,1005.3 965.3,1006.1 966.4,1006.9C967.4,1007.8 968.5,1008.4 969.5,1009.5C970.8,1010.8 971.9,1012.7 973.2,1014.3C974.4,1015.9 975.6,1017.4 976.8,1019.0C978.1,1020.5 979.4,1021.9 980.5,1023.7C981.8,1025.9 983.0,1028.8 984.2,1031.2C985.4,1033.7 986.7,1036.1 987.9,1038.5C989.1,1040.9 990.2,1042.6 991.6,1045.8C994.2,1051.6 998.3,1063.4 1001.1,1071.1C1003.4,1077.4 1005.0,1083.9 1007.4,1088.5C1009.1,1091.8 1011.0,1096.2 1012.9,1096.4C1014.5,1096.5 1016.3,1094.0 1017.7,1091.6C1020.2,1087.3 1021.2,1077.9 1023.2,1071.1C1025.2,1064.2 1027.4,1055.7 1029.5,1050.6C1030.8,1047.4 1032.1,1045.4 1033.5,1042.9C1034.8,1040.4 1036.0,1037.3 1037.4,1035.6C1038.4,1034.4 1039.5,1033.9 1040.6,1033.1C1041.6,1032.3 1042.5,1030.9 1043.7,1030.8C1044.9,1030.7 1046.3,1032.0 1047.7,1032.5C1049.0,1033.1 1050.3,1034.2 1051.6,1034.0C1053.2,1033.7 1055.1,1031.5 1056.4,1030.0C1057.7,1028.6 1058.5,1026.8 1059.6,1025.3C1060.6,1023.7 1061.5,1021.8 1062.7,1020.5C1063.8,1019.3 1065.1,1018.5 1066.4,1017.6C1067.6,1016.8 1068.9,1016.2 1070.1,1015.4C1071.4,1014.6 1072.5,1013.1 1073.8,1012.6C1074.8,1012.2 1075.9,1012.5 1077.0,1012.4C1078.0,1012.2 1079.0,1011.8 1080.1,1011.6C1081.1,1011.5 1082.2,1011.6 1083.2,1011.5C1084.3,1011.4 1085.3,1011.2 1086.4,1011.1C1087.4,1011.0 1088.5,1011.0 1089.6,1011.0C1090.6,1011.1 1091.7,1011.2 1092.7,1011.2C1093.8,1011.2 1094.8,1011.1 1095.9,1011.0C1096.9,1011.0 1098.0,1011.0 1099.0,1011.0C1100.1,1011.0 1101.1,1011.0 1102.2,1011.1C1103.2,1011.2 1104.3,1011.3 1105.3,1011.3C1106.4,1011.3 1107.5,1011.0 1108.5,1011.1C1109.6,1011.2 1110.6,1011.7 1111.7,1012.0C1112.7,1012.4 1113.8,1013.5 1114.8,1013.4C1115.9,1013.3 1116.9,1012.0 1118.0,1011.4C1119.0,1010.8 1120.1,1010.4 1121.1,1009.8C1122.2,1009.2 1123.2,1008.2 1124.3,1007.9C1125.4,1007.6 1126.6,1007.9 1127.8,1007.8C1128.9,1007.7 1130.1,1007.4 1131.3,1007.3C1132.4,1007.1 1133.6,1007.0 1134.7,1006.9C1135.9,1006.8 1137.1,1006.9 1138.2,1006.8C1139.4,1006.7 1140.5,1006.4 1141.7,1006.3C1142.8,1006.2 1144.0,1006.2 1145.1,1006.0C1146.2,1005.8 1147.3,1005.3 1148.5,1005.2C1149.6,1005.1 1150.7,1005.3 1151.9,1005.2C1153.0,1005.0 1154.1,1004.6 1155.2,1004.4C1156.4,1004.2 1157.5,1004.1 1158.6,1004.0C1159.8,1003.9 1160.9,1003.9 1162.0,1003.8C1163.1,1003.7 1164.3,1003.4 1165.4,1003.2C1166.5,1003.0 1167.5,1002.8 1168.6,1002.7C1169.6,1002.5 1170.7,1002.6 1171.7,1002.4C1172.8,1002.2 1173.8,1001.7 1174.9,1001.6C1175.9,1001.4 1177.0,1001.6 1178.0,1001.5C1179.1,1001.3 1180.1,1000.9 1181.2,1000.8C1182.2,1000.7 1183.3,1000.7 1184.4,1000.6C1185.4,1000.6 1186.5,1000.6 1187.5,1000.6C1188.6,1000.7 1189.6,1000.8 1190.7,1000.8C1191.7,1000.8 1192.8,1000.7 1193.8,1000.7C1194.9,1000.7 1195.9,1000.4 1197.0,1000.8C1198.5,1001.4 1200.3,1002.8 1201.7,1004.7C1203.8,1007.7 1204.2,1017.1 1206.5,1018.2C1207.8,1018.8 1209.9,1016.2 1211.2,1016.6C1212.5,1016.9 1213.3,1019.0 1214.3,1020.2C1215.4,1021.4 1216.6,1022.2 1217.5,1023.7C1218.8,1025.8 1219.6,1029.1 1220.7,1031.8C1221.8,1034.4 1222.7,1036.4 1223.9,1039.5C1225.6,1043.9 1227.5,1055.1 1229.8,1055.9C1230.9,1056.3 1232.3,1054.4 1233.5,1053.7C1234.7,1052.9 1235.8,1051.5 1237.2,1051.2C1238.8,1050.9 1241.2,1053.1 1242.8,1052.1C1246.4,1049.8 1247.5,1029.2 1250.3,1026.1C1251.3,1025.0 1252.4,1025.2 1253.4,1024.9C1254.4,1024.6 1255.5,1024.4 1256.5,1024.1C1257.5,1023.9 1258.7,1024.1 1259.6,1023.3C1261.1,1022.0 1262.1,1018.0 1263.3,1015.4C1264.5,1012.7 1265.5,1009.3 1267.0,1007.4C1268.1,1006.1 1269.5,1005.6 1270.8,1004.6C1272.0,1003.7 1273.2,1002.4 1274.5,1001.9C1275.7,1001.5 1277.0,1001.8 1278.2,1001.8C1279.5,1001.7 1280.7,1001.5 1282.0,1001.4C1283.2,1001.3 1284.4,1001.0 1285.7,1000.9C1286.9,1000.9 1288.2,1000.9 1289.4,1000.9C1290.6,1000.9 1291.9,1000.7 1293.1,1000.8C1294.4,1000.8 1295.6,1001.1 1296.8,1001.1C1298.1,1001.1 1299.3,1000.7 1300.6,1000.6C1301.8,1000.6 1303.1,1000.8 1304.3,1000.9C1305.4,1001.0 1306.4,1001.1 1307.4,1001.2C1308.4,1001.3 1309.5,1001.6 1310.5,1001.5C1311.5,1001.4 1312.6,1000.8 1313.6,1000.7C1314.6,1000.5 1315.7,1000.7 1316.7,1000.6C1317.7,1000.6 1318.8,1000.5 1319.8,1000.3C1320.8,1000.2 1321.9,999.9 1322.9,1000.0C1324.0,1000.1 1325.2,1000.6 1326.3,1001.1C1327.4,1001.8 1328.4,1003.2 1329.6,1003.7C1330.7,1004.2 1331.9,1003.9 1333.0,1004.4C1334.2,1004.9 1335.2,1006.2 1336.3,1006.7C1337.4,1007.1 1338.6,1007.0 1339.7,1007.4C1340.9,1007.9 1342.2,1008.6 1343.4,1009.4C1344.7,1010.3 1345.9,1011.8 1347.2,1012.8C1348.3,1013.6 1349.6,1014.3 1350.9,1015.0C1352.1,1015.6 1353.5,1016.0 1354.6,1016.8C1355.7,1017.5 1356.6,1018.7 1357.7,1019.5C1358.7,1020.3 1359.8,1020.9 1360.8,1021.6C1361.9,1022.4 1362.8,1023.4 1363.9,1024.2C1365.1,1025.1 1366.4,1025.6 1367.6,1026.7C1368.9,1027.8 1370.0,1029.7 1371.3,1030.9C1372.5,1031.9 1373.8,1032.5 1375.0,1033.5C1376.3,1034.5 1377.5,1035.7 1378.7,1037.0C1380.0,1038.3 1381.2,1039.9 1382.5,1041.3C1383.7,1042.5 1384.9,1043.8 1386.2,1044.7C1387.4,1045.5 1388.7,1045.8 1389.9,1046.5C1391.2,1047.2 1392.5,1048.0 1393.7,1048.9C1394.9,1049.8 1396.1,1051.4 1397.4,1052.1C1398.6,1052.8 1399.9,1052.7 1401.1,1053.3C1402.4,1054.0 1403.6,1055.7 1404.9,1056.4C1406.1,1057.1 1407.4,1056.8 1408.6,1057.7C1410.5,1059.1 1412.4,1063.9 1414.2,1065.2C1415.3,1065.9 1416.3,1065.6 1417.3,1066.2C1418.4,1066.8 1419.3,1068.4 1420.4,1069.0C1421.4,1069.5 1422.5,1069.4 1423.5,1069.8C1424.6,1070.2 1425.6,1070.8 1426.6,1071.4C1427.7,1072.1 1428.6,1073.0 1429.7,1073.7C1430.7,1074.3 1431.8,1075.5 1432.8,1075.4C1434.0,1075.2 1435.2,1073.0 1436.5,1071.9C1437.7,1070.8 1439.0,1068.8 1440.2,1068.9C1441.4,1069.0 1442.4,1071.3 1443.6,1072.2C1444.7,1073.1 1446.0,1073.5 1447.1,1074.4C1448.3,1075.4 1449.4,1078.4 1450.5,1078.2C1452.4,1077.9 1454.0,1065.6 1456.1,1065.2C1457.5,1064.9 1459.3,1070.0 1460.7,1069.8C1462.1,1069.6 1463.2,1065.6 1464.5,1063.6C1465.7,1061.6 1466.7,1058.8 1468.2,1057.7C1469.3,1056.9 1470.7,1057.2 1471.9,1056.6C1473.2,1056.0 1474.4,1053.9 1475.6,1054.0C1476.9,1054.1 1478.0,1057.9 1479.3,1057.7C1481.1,1057.5 1483.1,1050.2 1484.9,1048.4C1485.9,1047.4 1486.9,1047.0 1488.0,1046.6C1489.0,1046.3 1490.1,1046.5 1491.1,1046.2C1492.2,1045.9 1493.3,1045.9 1494.2,1044.7C1497.0,1041.1 1498.0,1015.0 1499.8,1014.9C1500.8,1014.8 1501.5,1023.3 1502.6,1023.3C1503.9,1023.3 1505.6,1015.1 1507.3,1011.2C1509.0,1007.4 1512.8,1000.0 1512.8,1000.0" stroke="#7bd160" stroke-width="3.1" fill="none" stroke-linejoin="round"/>
<path d="M60.2,1061.7C60.2,1061.7 62.3,1061.7 63.4,1061.7C64.5,1061.7 65.5,1061.7 66.6,1061.7C67.7,1061.6 68.7,1061.6 69.8,1061.6C70.9,1061.6 71.9,1061.6 73.0,1061.6C74.1,1061.5 75.1,1061.4 76.2,1061.3C77.3,1061.3 78.3,1061.5 79.4,1061.3C80.5,1061.2 81.5,1060.7 82.6,1060.6C83.7,1060.5 84.7,1060.7 85.8,1060.8C86.9,1060.9 87.9,1061.0 89.0,1061.0C90.1,1061.0 91.1,1060.8 92.2,1060.7C93.3,1060.6 94.3,1060.5 95.4,1060.5C96.4,1060.5 97.4,1060.8 98.4,1060.8C99.4,1060.8 100.4,1060.3 101.4,1060.3C102.4,1060.3 103.5,1060.6 104.5,1060.6C105.5,1060.6 106.5,1060.4 107.5,1060.5C108.5,1060.5 109.5,1060.6 110.5,1060.7C111.5,1060.7 112.5,1060.8 113.5,1060.8C114.5,1060.7 115.5,1060.4 116.5,1060.4C117.5,1060.4 118.6,1060.5 119.6,1060.6C120.6,1060.6 121.6,1060.6 122.6,1060.6C123.6,1060.7 124.6,1061.1 125.6,1061.1C126.6,1061.2 127.6,1061.1 128.6,1061.1C129.6,1061.0 130.6,1060.6 131.6,1060.7C132.6,1060.7 133.7,1061.1 134.7,1061.1C135.7,1061.1 136.7,1060.7 137.7,1060.7C138.7,1060.7 139.6,1061.0 140.7,1061.0C142.2,1061.0 144.2,1060.5 145.7,1060.5C147.0,1060.5 148.2,1060.9 149.5,1060.9C150.7,1061.0 152.0,1060.9 153.2,1061.0C154.5,1061.1 155.7,1061.4 157.0,1061.6C158.3,1061.8 159.6,1062.0 160.9,1062.4C162.3,1062.8 163.6,1063.2 164.9,1063.9C166.4,1064.6 167.9,1066.3 169.5,1066.7C171.0,1067.0 172.6,1065.9 174.0,1066.2C175.3,1066.5 176.2,1067.6 177.4,1068.2C178.5,1068.7 179.7,1069.0 180.8,1069.6C182.0,1070.2 183.1,1071.1 184.2,1071.9C185.4,1072.8 186.5,1073.5 187.6,1074.7C189.1,1076.3 190.6,1078.8 192.2,1080.9C193.9,1083.1 196.3,1085.1 197.8,1087.7C199.4,1090.4 199.9,1093.6 201.2,1096.8C202.8,1100.7 205.2,1106.0 206.9,1109.3C208.1,1111.6 209.1,1113.1 210.3,1114.9C211.4,1116.6 212.6,1118.1 213.7,1119.8C214.8,1121.5 216.0,1123.2 217.1,1125.1C218.4,1127.3 219.7,1129.9 221.1,1132.2C222.3,1134.5 223.8,1136.6 225.0,1138.7C226.2,1140.7 227.1,1142.8 228.2,1144.8C229.2,1146.7 230.3,1148.3 231.4,1150.2C232.5,1152.2 233.5,1154.5 234.6,1156.6C235.6,1158.5 236.7,1160.2 237.7,1162.1C238.8,1164.0 239.9,1166.1 240.9,1168.0C242.0,1169.9 243.1,1171.7 244.1,1173.6C245.2,1175.5 246.2,1177.7 247.3,1179.6C248.3,1181.4 249.4,1183.0 250.5,1184.6C251.5,1186.1 252.6,1187.5 253.7,1189.1C254.7,1190.7 255.7,1192.4 256.8,1194.0C257.9,1195.5 259.0,1196.6 260.0,1198.3C261.3,1200.4 262.4,1203.4 263.6,1205.8C264.8,1208.2 266.0,1210.5 267.2,1212.8C268.4,1215.0 269.6,1217.1 270.9,1219.3C272.1,1221.5 273.3,1223.8 274.5,1226.0C275.7,1228.2 276.9,1230.3 278.1,1232.6C279.3,1234.8 280.5,1237.2 281.7,1239.3C282.9,1241.3 284.1,1243.1 285.3,1245.1C286.5,1247.1 287.6,1249.4 288.9,1251.3C290.0,1253.0 291.3,1254.3 292.5,1255.9C293.7,1257.5 294.8,1259.6 296.1,1261.0C297.1,1262.2 298.3,1262.9 299.3,1263.9C300.4,1265.0 301.5,1266.1 302.6,1267.3C303.6,1268.4 304.7,1269.7 305.8,1270.6C306.8,1271.4 307.9,1272.1 309.0,1272.7C310.0,1273.3 311.2,1273.6 312.2,1274.3C313.3,1274.9 314.3,1276.1 315.4,1276.6C316.4,1277.1 317.4,1277.2 318.4,1277.5C319.4,1277.7 320.4,1277.8 321.4,1278.0C322.5,1278.2 323.5,1278.4 324.5,1278.7C325.5,1279.0 326.4,1279.4 327.5,1279.6C328.6,1279.8 329.9,1279.7 331.1,1279.7C332.3,1279.6 333.5,1279.4 334.7,1279.3C335.9,1279.2 337.1,1279.1 338.3,1279.0C339.5,1279.0 340.6,1278.8 341.9,1279.0C343.4,1279.3 345.3,1280.7 346.7,1280.8C347.8,1280.9 348.8,1280.4 349.8,1280.2C350.9,1280.0 351.9,1280.0 353.0,1279.7C354.0,1279.5 355.1,1278.9 356.1,1278.7C357.2,1278.5 358.2,1278.9 359.3,1278.7C360.3,1278.6 361.3,1278.2 362.4,1277.8C363.6,1277.3 364.8,1276.4 366.0,1275.9C367.2,1275.4 368.5,1275.2 369.7,1274.8C370.9,1274.3 372.1,1273.8 373.3,1273.0C374.6,1272.2 375.7,1271.0 376.9,1269.9C378.1,1268.8 379.3,1267.7 380.5,1266.4C381.7,1265.1 382.9,1263.5 384.1,1262.2C385.3,1260.9 386.6,1260.0 387.7,1258.6C389.0,1257.1 390.1,1255.1 391.3,1253.4C392.5,1251.5 393.7,1249.6 394.9,1247.7C396.1,1245.7 397.3,1243.6 398.5,1241.6C399.8,1239.6 401.0,1237.8 402.2,1235.7C403.6,1233.3 405.0,1230.5 406.4,1227.9C407.8,1225.3 409.4,1222.6 410.6,1220.0C411.7,1217.6 412.6,1215.3 413.6,1213.0C414.6,1210.8 415.6,1208.8 416.6,1206.7C417.7,1204.5 418.7,1202.2 419.8,1200.0C420.9,1197.8 422.0,1195.8 423.1,1193.7C424.1,1191.6 425.1,1189.7 426.3,1187.5C427.6,1185.1 429.1,1182.5 430.5,1180.0C431.9,1177.3 433.4,1174.2 434.7,1171.8C435.8,1169.8 436.8,1168.1 437.9,1166.4C438.9,1164.7 440.1,1163.2 441.1,1161.5C442.2,1159.8 443.1,1157.9 444.3,1156.1C445.6,1154.2 447.2,1152.4 448.6,1150.4C450.0,1148.4 451.3,1145.8 452.8,1144.1C454.0,1142.7 455.2,1142.0 456.4,1140.8C457.6,1139.6 458.7,1138.1 460.0,1136.9C461.3,1135.7 462.7,1134.8 464.1,1133.7C465.5,1132.7 466.6,1131.1 468.2,1130.8C469.9,1130.4 472.3,1131.1 473.9,1131.9C475.3,1132.6 476.2,1134.1 477.3,1135.2C478.4,1136.3 479.6,1138.7 480.7,1138.7C481.8,1138.7 483.0,1136.3 484.1,1135.1C485.2,1133.9 486.3,1131.5 487.5,1131.5C488.8,1131.5 490.1,1134.5 491.4,1135.9C492.8,1137.3 494.2,1140.1 495.4,1139.9C496.7,1139.7 497.6,1135.9 498.8,1134.0C499.9,1132.1 501.1,1130.5 502.2,1128.7C503.4,1126.9 504.3,1124.3 505.6,1122.9C506.6,1121.9 507.9,1121.6 509.0,1120.8C510.2,1120.1 511.3,1119.4 512.5,1118.6C513.6,1117.8 514.8,1117.3 515.9,1116.1C517.5,1114.3 518.6,1109.3 520.4,1108.1C521.6,1107.3 523.0,1107.8 524.3,1107.8C525.7,1107.8 527.1,1108.8 528.3,1108.1C530.3,1106.9 531.1,1098.7 532.9,1096.8C533.9,1095.8 535.0,1095.9 536.1,1095.3C537.1,1094.6 538.1,1093.6 539.2,1092.9C540.2,1092.2 541.3,1091.8 542.4,1091.2C543.4,1090.7 544.5,1090.2 545.5,1089.6C546.6,1089.0 547.6,1088.1 548.7,1087.7C549.7,1087.3 550.9,1087.4 551.9,1087.0C553.0,1086.7 554.1,1086.0 555.2,1085.6C556.2,1085.3 557.4,1085.4 558.4,1085.1C559.5,1084.8 560.6,1084.2 561.7,1083.8C562.7,1083.5 563.8,1083.1 564.9,1082.7C566.0,1082.4 567.1,1082.0 568.2,1081.7C569.2,1081.4 570.3,1081.2 571.4,1080.9C572.4,1080.6 573.5,1080.2 574.5,1080.0C575.5,1079.7 576.5,1079.4 577.6,1079.2C578.6,1078.9 579.6,1078.7 580.7,1078.5C581.7,1078.3 582.7,1078.3 583.8,1078.2C584.8,1078.0 585.8,1077.9 586.9,1077.7C587.9,1077.4 588.9,1076.7 589.9,1076.4C591.0,1076.0 592.0,1075.7 593.0,1075.6C594.1,1075.4 595.1,1075.7 596.1,1075.5C597.2,1075.3 598.2,1074.8 599.2,1074.5C600.2,1074.2 601.3,1073.9 602.3,1073.7C603.3,1073.4 604.4,1073.1 605.4,1073.0C606.5,1072.9 607.6,1072.8 608.6,1072.8C609.7,1072.8 610.8,1073.0 611.9,1073.1C613.0,1073.1 614.0,1073.2 615.1,1073.2C616.2,1073.2 617.3,1073.0 618.4,1073.0C619.5,1072.9 620.5,1073.0 621.6,1072.9C622.7,1072.9 623.8,1072.7 624.9,1072.7C625.9,1072.7 627.0,1073.0 628.1,1073.0C629.2,1072.9 630.4,1072.7 631.5,1072.4C632.7,1072.0 633.7,1071.2 634.9,1070.8C636.0,1070.5 637.1,1070.2 638.3,1070.2C639.6,1070.2 640.9,1070.7 642.2,1071.0C643.6,1071.3 645.0,1071.7 646.2,1071.8C647.3,1071.9 648.2,1071.8 649.2,1071.7C650.2,1071.5 651.2,1070.9 652.2,1070.8C653.2,1070.7 654.3,1070.9 655.3,1070.8C656.3,1070.8 657.3,1070.7 658.3,1070.6C659.3,1070.5 660.3,1070.1 661.3,1070.0C662.3,1069.9 663.3,1069.9 664.3,1069.7C665.3,1069.5 666.3,1069.0 667.4,1068.9C668.4,1068.7 669.4,1068.8 670.4,1068.7C671.4,1068.7 672.4,1068.5 673.4,1068.4C674.5,1068.2 675.5,1067.9 676.6,1067.8C677.6,1067.8 678.7,1068.1 679.8,1068.0C680.8,1067.9 681.9,1067.4 683.0,1067.3C684.0,1067.1 685.1,1067.1 686.2,1067.0C687.2,1067.0 688.3,1067.2 689.3,1067.1C690.4,1067.0 691.5,1066.8 692.5,1066.7C693.6,1066.6 694.7,1066.6 695.7,1066.4C696.8,1066.3 697.9,1065.9 698.9,1065.7C700.0,1065.6 701.0,1065.5 702.1,1065.4C703.2,1065.3 704.4,1064.5 705.3,1065.1C707.0,1066.1 707.9,1071.0 709.3,1074.6C711.1,1079.2 713.6,1083.9 715.2,1090.4C717.6,1100.1 718.3,1127.8 720.1,1127.9C721.0,1128.0 721.7,1121.0 723.1,1118.0C724.4,1115.1 725.9,1111.3 728.0,1110.1C729.7,1109.2 732.5,1111.2 733.9,1110.1C736.0,1108.5 735.5,1102.3 736.9,1098.3C738.4,1093.8 740.9,1087.7 742.8,1084.4C743.9,1082.4 745.0,1081.5 746.1,1080.0C747.2,1078.4 748.3,1076.8 749.4,1075.2C750.5,1073.6 751.3,1071.2 752.7,1070.6C753.8,1070.1 755.3,1070.8 756.7,1071.0C758.0,1071.1 759.3,1071.3 760.6,1071.6C761.9,1071.9 763.2,1072.2 764.5,1072.5C765.9,1072.9 767.2,1073.8 768.5,1073.6C769.9,1073.3 771.1,1070.9 772.5,1070.6C773.8,1070.4 775.1,1071.3 776.4,1071.7C777.8,1072.1 779.1,1072.7 780.4,1073.2C781.7,1073.7 783.0,1074.3 784.3,1074.6C785.6,1074.9 786.9,1074.9 788.2,1074.9C789.6,1074.9 791.0,1075.4 792.2,1074.6C794.1,1073.3 795.6,1065.6 797.1,1065.7C798.9,1065.8 800.2,1078.3 802.1,1078.5C803.6,1078.7 805.5,1071.6 807.0,1071.6C808.1,1071.6 808.8,1074.8 810.0,1075.5C811.0,1076.1 812.3,1075.8 813.5,1075.8C814.6,1075.8 815.7,1075.6 816.9,1075.6C818.0,1075.5 819.2,1075.5 820.3,1075.5C821.5,1075.5 822.7,1075.9 823.8,1075.5C825.2,1075.1 826.5,1073.2 827.8,1072.6C828.9,1072.1 830.0,1072.2 831.1,1072.0C832.2,1071.8 833.3,1071.5 834.4,1071.3C835.5,1071.1 836.6,1071.0 837.6,1070.9C838.7,1070.9 839.8,1070.9 840.9,1070.8C842.0,1070.7 843.1,1070.6 844.2,1070.4C845.3,1070.2 846.3,1070.0 847.5,1069.6C849.2,1069.1 851.8,1067.1 853.4,1067.6C855.1,1068.1 855.9,1072.5 857.4,1072.6C859.1,1072.7 861.3,1068.0 863.3,1066.7C864.9,1065.6 866.9,1064.3 868.2,1064.7C869.5,1065.1 870.2,1067.6 871.2,1069.1C872.2,1070.5 873.3,1073.7 874.2,1073.6C875.7,1073.4 876.2,1061.7 878.1,1060.7C879.1,1060.2 880.4,1061.6 881.5,1061.9C882.7,1062.2 884.0,1062.1 885.0,1062.7C886.1,1063.4 887.0,1064.8 888.0,1065.8C889.0,1066.8 890.0,1068.7 891.0,1068.6C892.3,1068.5 893.5,1063.7 894.9,1063.1C895.9,1062.7 897.0,1063.4 898.1,1063.6C899.1,1063.7 900.2,1063.7 901.2,1063.9C902.3,1064.0 903.3,1064.2 904.4,1064.2C905.4,1064.3 906.5,1064.2 907.5,1064.3C908.6,1064.4 909.6,1065.0 910.7,1064.7C912.3,1064.2 914.1,1060.9 915.7,1060.3C916.9,1059.9 918.0,1060.5 919.2,1060.5C920.3,1060.5 921.4,1060.3 922.6,1060.3C923.7,1060.3 924.9,1060.4 926.0,1060.5C927.2,1060.6 928.3,1060.7 929.5,1060.8C930.6,1060.8 931.8,1060.8 933.0,1060.8C934.1,1060.8 935.3,1060.7 936.4,1060.7C937.5,1060.7 938.5,1060.6 939.5,1060.7C940.5,1060.8 941.5,1061.4 942.6,1061.5C943.6,1061.6 944.6,1061.3 945.7,1061.3C946.7,1061.2 947.7,1061.4 948.8,1061.3C949.8,1061.2 950.8,1060.7 951.8,1060.7C952.9,1060.8 953.9,1061.4 954.9,1061.5C955.9,1061.6 957.0,1061.2 958.0,1061.3C959.0,1061.3 960.1,1061.4 961.1,1061.7C962.2,1062.1 963.4,1062.9 964.5,1063.5C965.6,1064.0 966.8,1064.2 967.9,1064.8C969.0,1065.5 970.0,1066.5 971.1,1067.4C972.1,1068.3 973.1,1069.5 974.2,1070.4C975.3,1071.3 976.4,1071.5 977.4,1072.7C978.9,1074.5 980.0,1078.1 981.3,1080.8C982.7,1083.4 984.0,1085.3 985.3,1088.5C987.3,1093.4 989.6,1100.7 991.6,1107.4C993.8,1114.8 995.8,1123.2 997.9,1131.1C1000.0,1139.0 1002.1,1147.0 1004.2,1154.8C1006.3,1162.3 1008.1,1172.0 1010.6,1177.0C1012.0,1179.9 1013.8,1183.3 1015.3,1183.3C1016.7,1183.3 1018.0,1180.2 1019.2,1178.5C1020.6,1176.8 1021.9,1174.5 1023.2,1173.0C1024.3,1171.8 1025.3,1170.9 1026.4,1169.9C1027.4,1169.0 1028.5,1168.3 1029.5,1167.4C1030.6,1166.4 1031.7,1165.9 1032.7,1164.3C1034.6,1161.2 1035.9,1154.0 1037.4,1148.5C1039.1,1142.5 1040.1,1132.6 1042.2,1129.6C1043.1,1128.3 1044.3,1128.3 1045.3,1127.5C1046.4,1126.7 1047.4,1125.6 1048.5,1124.8C1049.5,1124.1 1050.6,1123.6 1051.7,1122.8C1052.7,1122.0 1053.8,1121.5 1054.8,1120.1C1056.3,1118.0 1057.4,1113.6 1058.8,1110.4C1060.1,1107.3 1061.2,1103.8 1062.7,1101.1C1063.9,1098.8 1065.4,1097.3 1066.7,1095.2C1068.0,1093.1 1069.1,1089.6 1070.6,1088.5C1071.6,1087.8 1072.7,1088.1 1073.8,1087.7C1074.8,1087.3 1075.9,1085.9 1076.9,1086.1C1078.1,1086.4 1079.0,1089.2 1080.1,1090.8C1081.1,1092.4 1082.1,1094.1 1083.2,1095.6C1084.3,1097.0 1085.1,1099.3 1086.4,1099.5C1087.7,1099.7 1089.8,1096.1 1091.1,1096.4C1092.5,1096.7 1093.2,1100.1 1094.3,1101.7C1095.3,1103.2 1096.5,1104.3 1097.5,1105.9C1098.7,1107.8 1099.9,1110.1 1101.0,1112.2C1102.2,1114.3 1103.4,1118.5 1104.6,1118.5C1105.9,1118.5 1107.2,1113.8 1108.5,1111.4C1109.9,1109.1 1111.0,1104.4 1112.5,1104.3C1114.1,1104.2 1116.5,1112.5 1118.0,1112.2C1120.1,1111.8 1120.8,1098.9 1122.7,1094.8C1123.9,1092.3 1125.3,1091.0 1126.7,1089.2C1127.9,1087.6 1129.2,1085.3 1130.6,1084.5C1131.6,1084.0 1132.7,1084.3 1133.8,1084.1C1134.8,1084.0 1135.9,1083.8 1136.9,1083.5C1138.0,1083.2 1139.0,1082.2 1140.1,1082.2C1141.1,1082.2 1142.2,1082.8 1143.3,1083.2C1144.3,1083.6 1145.4,1084.1 1146.4,1084.5C1147.5,1084.8 1148.6,1085.7 1149.6,1085.3C1151.0,1084.8 1152.3,1081.9 1153.5,1080.1C1154.9,1078.2 1156.0,1075.1 1157.5,1074.3C1158.5,1073.8 1159.6,1074.5 1160.7,1074.3C1161.7,1074.2 1162.8,1073.5 1163.8,1073.4C1164.9,1073.2 1166.0,1073.9 1167.0,1073.5C1168.3,1073.1 1169.5,1071.5 1170.7,1070.4C1171.9,1069.3 1173.1,1067.9 1174.3,1066.7C1175.5,1065.5 1176.7,1063.8 1178.0,1063.2C1179.0,1062.7 1180.1,1063.1 1181.2,1063.0C1182.3,1062.9 1183.4,1062.7 1184.4,1062.4C1185.5,1062.1 1186.5,1061.5 1187.6,1061.1C1188.6,1060.7 1189.7,1059.7 1190.7,1060.0C1192.0,1060.4 1193.1,1063.3 1194.4,1064.9C1195.6,1066.6 1196.8,1068.3 1198.0,1069.9C1199.2,1071.4 1200.6,1072.5 1201.7,1074.3C1203.1,1076.5 1204.2,1079.5 1205.5,1082.0C1206.8,1084.5 1207.8,1089.1 1209.3,1089.4C1210.5,1089.7 1212.1,1087.1 1213.5,1085.9C1214.9,1084.6 1216.2,1081.9 1217.7,1081.9C1219.4,1081.8 1221.8,1084.1 1223.3,1086.6C1225.8,1090.7 1226.5,1099.4 1227.9,1106.1C1229.4,1113.3 1229.6,1124.9 1231.7,1128.5C1232.6,1130.0 1233.8,1130.1 1234.8,1131.0C1235.9,1132.0 1236.9,1133.2 1237.9,1134.3C1238.9,1135.4 1240.0,1137.9 1241.0,1137.8C1242.2,1137.7 1243.5,1134.0 1244.7,1132.1C1245.9,1130.3 1247.2,1126.4 1248.4,1126.6C1250.9,1127.0 1253.4,1151.7 1255.9,1151.8C1257.8,1151.9 1260.0,1143.6 1261.5,1137.8C1263.8,1129.1 1263.9,1113.1 1266.1,1104.3C1267.6,1098.2 1269.9,1095.0 1271.7,1089.4C1274.0,1082.4 1275.6,1068.5 1278.2,1065.2C1279.2,1064.0 1280.3,1064.2 1281.3,1063.5C1282.4,1062.8 1283.3,1061.8 1284.4,1061.1C1285.4,1060.5 1286.3,1059.7 1287.5,1059.6C1289.1,1059.5 1291.6,1061.8 1293.1,1061.5C1294.3,1061.3 1295.1,1060.0 1296.1,1059.1C1297.1,1058.3 1298.2,1057.5 1299.2,1056.5C1300.2,1055.4 1301.1,1053.9 1302.2,1053.0C1303.1,1052.2 1304.2,1051.0 1305.2,1051.2C1306.4,1051.4 1307.4,1054.0 1308.5,1055.3C1309.5,1056.8 1310.5,1058.4 1311.7,1059.6C1312.8,1060.7 1314.2,1061.3 1315.5,1062.4C1316.7,1063.5 1317.9,1066.0 1319.2,1066.1C1320.4,1066.2 1321.6,1064.1 1322.9,1063.4C1324.1,1062.9 1325.5,1062.0 1326.6,1062.4C1328.0,1062.9 1329.1,1065.6 1330.3,1067.3C1331.7,1069.3 1332.5,1072.3 1334.1,1073.6C1335.4,1074.7 1337.4,1074.1 1338.7,1075.4C1340.8,1077.5 1341.4,1085.4 1343.4,1087.5C1344.5,1088.7 1345.9,1088.7 1347.1,1089.3C1348.4,1090.0 1349.7,1090.5 1350.9,1091.3C1352.1,1092.1 1353.4,1092.6 1354.6,1094.0C1356.5,1096.1 1358.2,1103.0 1360.1,1103.4C1361.3,1103.7 1362.7,1100.4 1363.9,1100.6C1365.3,1100.8 1366.4,1103.9 1367.6,1105.6C1368.8,1107.3 1370.1,1109.0 1371.3,1110.9C1372.6,1112.9 1373.6,1115.7 1375.0,1117.3C1376.1,1118.6 1377.5,1119.3 1378.7,1120.3C1380.0,1121.3 1381.2,1122.3 1382.5,1123.3C1383.7,1124.3 1385.0,1125.3 1386.2,1126.6C1387.5,1128.0 1388.7,1129.9 1390.0,1131.5C1391.2,1133.0 1392.5,1134.4 1393.7,1135.9C1394.9,1137.5 1395.9,1139.2 1397.0,1140.8C1398.0,1142.3 1399.0,1145.3 1400.2,1145.3C1401.6,1145.3 1403.2,1139.0 1404.8,1138.7C1406.0,1138.5 1407.3,1140.1 1408.5,1141.0C1409.8,1142.0 1411.0,1143.4 1412.3,1144.3C1413.4,1145.0 1414.4,1145.7 1415.5,1146.0C1416.6,1146.3 1417.8,1146.8 1418.8,1146.2C1420.8,1145.0 1421.6,1135.0 1423.5,1134.1C1424.5,1133.6 1425.6,1134.5 1426.6,1135.1C1427.7,1135.7 1428.6,1136.9 1429.7,1137.7C1430.7,1138.4 1431.8,1139.9 1432.8,1139.7C1433.9,1139.5 1434.8,1136.9 1435.9,1135.6C1436.9,1134.3 1438.0,1133.2 1439.0,1132.1C1440.0,1130.9 1441.1,1128.4 1442.1,1128.5C1443.6,1128.7 1445.3,1137.9 1446.7,1137.8C1448.2,1137.7 1449.1,1126.7 1450.5,1126.6C1451.6,1126.5 1453.1,1133.3 1454.2,1133.1C1455.8,1132.9 1456.4,1117.4 1457.9,1117.3C1459.2,1117.2 1460.9,1129.2 1462.6,1129.4C1463.8,1129.6 1465.0,1126.0 1466.3,1124.5C1467.5,1123.2 1468.8,1121.9 1470.0,1121.0C1471.0,1120.2 1471.9,1120.3 1472.8,1119.2C1474.6,1116.9 1476.0,1106.1 1477.5,1106.1C1478.8,1106.1 1480.0,1115.5 1481.2,1115.5C1482.4,1115.5 1483.7,1106.1 1484.9,1106.1C1486.1,1106.1 1487.5,1115.6 1488.6,1115.5C1489.7,1115.4 1490.0,1105.5 1491.4,1105.2C1492.6,1105.0 1494.8,1112.0 1496.1,1111.7C1498.6,1111.1 1498.8,1082.0 1500.7,1081.9C1502.1,1081.8 1504.0,1097.9 1505.4,1097.8C1507.3,1097.7 1507.6,1069.0 1510.0,1064.2C1510.8,1062.6 1512.8,1061.5 1512.8,1061.5" stroke="#15245f" stroke-width="3.1" fill="none" stroke-linejoin="round"/>
<path d="M61.5,1298.1H1519.7" stroke="#111" stroke-width="3.8" fill="none"/>
<path d="M61.5,1291.9V1302.6" stroke="#111" stroke-width="4.4" stroke-linecap="round"/>
<path d="M162.7,1295.6V1301.2" stroke="#111" stroke-width="4.6" stroke-linecap="round"/>
<path d="M263.9,1291.9V1302.6" stroke="#111" stroke-width="4.4" stroke-linecap="round"/>
<path d="M365.1,1295.6V1301.2" stroke="#111" stroke-width="4.6" stroke-linecap="round"/>
<path d="M466.3,1291.9V1302.6" stroke="#111" stroke-width="4.4" stroke-linecap="round"/>
<path d="M567.5,1295.6V1301.2" stroke="#111" stroke-width="4.6" stroke-linecap="round"/>
<path d="M668.7,1291.9V1302.6" stroke="#111" stroke-width="4.4" stroke-linecap="round"/>
<path d="M769.8,1295.6V1301.2" stroke="#111" stroke-width="4.6" stroke-linecap="round"/>
<path d="M871.0,1291.9V1302.6" stroke="#111" stroke-width="4.4" stroke-linecap="round"/>
<path d="M972.2,1295.6V1301.2" stroke="#111" stroke-width="4.6" stroke-linecap="round"/>
<path d="M1073.4,1291.9V1302.6" stroke="#111" stroke-width="4.4" stroke-linecap="round"/>
<path d="M1174.6,1295.6V1301.2" stroke="#111" stroke-width="4.6" stroke-linecap="round"/>
<path d="M1275.8,1291.9V1302.6" stroke="#111" stroke-width="4.4" stroke-linecap="round"/>
<path d="M1377.0,1295.6V1301.2" stroke="#111" stroke-width="4.6" stroke-linecap="round"/>
<path d="M1478.2,1291.9V1302.6" stroke="#111" stroke-width="4.4" stroke-linecap="round"/>
<text transform="translate(0.14,37.54) scale(0.9811,1.0263)" font-size="47" font-weight="bold">(A)</text>
<text transform="translate(180.89,75.06) scale(1.0052,1.0133)" font-size="33" font-weight="bold">pH 1.2</text>
<text transform="translate(397.21,74.77) scale(0.9953,1.0118)" font-size="33" font-weight="bold">pH 7.4</text>
<text transform="translate(358.90,499.13) scale(1.0148,1.0107)" font-size="30" font-weight="bold">Time (h)</text>
<text transform="translate(60.59,329.74) rotate(-90) scale(0.9973,1.0437)" font-size="29.8" font-weight="bold">RSV release %</text>
<text transform="translate(79.97,53.99) scale(1.0193,1.0560)" font-size="26.5" font-weight="bold">100</text>
<text transform="translate(95.00,126.74) scale(1.0193,1.0560)" font-size="26.5" font-weight="bold">80</text>
<text transform="translate(95.00,199.74) scale(1.0193,1.0560)" font-size="26.5" font-weight="bold">60</text>
<text transform="translate(95.00,272.74) scale(1.0193,1.0560)" font-size="26.5" font-weight="bold">40</text>
<text transform="translate(95.00,345.74) scale(1.0193,1.0560)" font-size="26.5" font-weight="bold">20</text>
<text transform="translate(110.03,418.74) scale(1.0193,1.0560)" font-size="26.5" font-weight="bold">0</text>
<text transform="translate(683.96,454.39) scale(0.9882,1.0400)" font-size="26.5" font-weight="bold">6</text>
<text transform="translate(137.41,454.39) scale(0.9882,1.0400)" font-size="26.5" font-weight="bold">0</text>
<text transform="translate(319.57,454.52) scale(0.9882,1.0400)" font-size="26.5" font-weight="bold">2</text>
<text transform="translate(501.61,454.39) scale(0.9882,1.0400)" font-size="26.5" font-weight="bold">4</text>
<text transform="translate(717.14,37.54) scale(0.9811,1.0263)" font-size="47" font-weight="bold">(B)</text>
<text transform="translate(973.80,74.75) scale(0.9995,1.0000)" font-size="33" font-weight="bold">pH 6.8</text>
<text transform="translate(1075.00,478.23) scale(1.0036,1.0037)" font-size="29" font-weight="bold">Time (h)</text>
<text transform="translate(788.50,315.95) rotate(-90) scale(0.9985,1.0143)" font-size="28.6" font-weight="bold">RSV release %</text>
<text transform="translate(807.66,51.49) scale(0.9963,1.0270)" font-size="26" font-weight="bold">100</text>
<text transform="translate(822.10,121.49) scale(0.9963,1.0270)" font-size="26" font-weight="bold">80</text>
<text transform="translate(822.10,191.49) scale(0.9963,1.0270)" font-size="26" font-weight="bold">60</text>
<text transform="translate(822.10,261.49) scale(0.9963,1.0270)" font-size="26" font-weight="bold">40</text>
<text transform="translate(822.10,331.49) scale(0.9963,1.0270)" font-size="26" font-weight="bold">20</text>
<text transform="translate(836.30,401.49) scale(0.9963,1.0270)" font-size="26" font-weight="bold">0</text>
<text transform="translate(1378.90,435.29) scale(0.9910,1.0216)" font-size="26" font-weight="bold">48</text>
<text transform="translate(862.02,435.29) scale(0.9910,1.0216)" font-size="26" font-weight="bold">0</text>
<text transform="translate(927.49,435.29) scale(0.9910,1.0216)" font-size="26" font-weight="bold">6</text>
<text transform="translate(985.54,435.42) scale(0.9910,1.0216)" font-size="26" font-weight="bold">12</text>
<text transform="translate(1051.02,435.29) scale(0.9910,1.0216)" font-size="26" font-weight="bold">18</text>
<text transform="translate(1116.49,435.42) scale(0.9910,1.0216)" font-size="26" font-weight="bold">24</text>
<text transform="translate(1182.59,435.29) scale(0.9910,1.0216)" font-size="26" font-weight="bold">30</text>
<text transform="translate(1247.95,435.29) scale(0.9910,1.0216)" font-size="26" font-weight="bold">36</text>
<text transform="translate(1313.55,435.42) scale(0.9910,1.0216)" font-size="26" font-weight="bold">42</text>
<text transform="translate(1531.48,80.71) scale(1.0100,0.9673)" font-size="33.4" font-weight="bold">Plain RSV</text>
<text transform="translate(1531.32,143.72) scale(1.0100,0.9673)" font-size="33.4" font-weight="bold">CSNPs</text>
<text transform="translate(1531.22,206.32) scale(1.0100,0.9673)" font-size="33.4" font-weight="bold">ALG-CSNPs</text>
<text transform="translate(0.38,584.99) scale(1.0091,1.0423)" font-size="47" font-weight="bold">(C)</text>
<text transform="translate(258.38,768.28) scale(1.0245,1.0769)" font-size="27.5" font-weight="bold">3340</text>
<text transform="translate(467.90,733.33) scale(1.0245,1.0769)" font-size="27.5" font-weight="bold">2931</text>
<text transform="translate(940.66,724.88) scale(1.0245,1.0769)" font-size="27.5" font-weight="bold">1685</text>
<text transform="translate(1095.66,751.23) scale(1.0245,1.0769)" font-size="27.5" font-weight="bold">1335</text>
<text transform="translate(1193.34,811.53) scale(1.0245,1.0769)" font-size="27.5" font-weight="bold">1218</text>
<text transform="translate(262.38,875.28) scale(1.0245,1.0769)" font-size="27.5" font-weight="bold" fill="#d60000">3350</text>
<text transform="translate(933.87,868.33) scale(1.0245,1.0769)" font-size="27.5" font-weight="bold" fill="#d60000">1692</text>
<text transform="translate(1037.01,877.23) scale(1.0245,1.0769)" font-size="27.5" font-weight="bold" fill="#d60000">1584</text>
<text transform="translate(955.69,991.18) scale(1.0245,1.0769)" font-size="27.5" font-weight="bold" fill="#6898f0">1626</text>
<text transform="translate(1116.92,978.73) scale(1.0245,1.0769)" font-size="27.5" font-weight="bold" fill="#6898f0">1400</text>
<text transform="translate(1277.92,973.28) scale(1.0245,1.0769)" font-size="27.5" font-weight="bold" fill="#6898f0">1080</text>
<text transform="translate(280.23,1136.53) scale(1.0245,1.0769)" font-size="27.5" font-weight="bold" fill="#5db92a">3350</text>
<text transform="translate(1034.62,1065.73) scale(1.0245,1.0769)" font-size="27.5" font-weight="bold" fill="#5db92a">1572</text>
<text transform="translate(992.36,1122.58) scale(1.0245,1.0769)" font-size="27.5" font-weight="bold" fill="#5db92a">1635</text>
<text transform="translate(1154.99,1050.73) scale(1.0245,1.0769)" font-size="27.5" font-weight="bold" fill="#5db92a">1228</text>
<text transform="translate(291.38,1248.43) scale(1.0245,1.0769)" font-size="27.5" font-weight="bold" fill="#000080">3350</text>
<text transform="translate(1544.44,704.75) scale(1.0052,1.0036)" font-size="38.8" font-weight="bold">RSV</text>
<text transform="translate(1544.21,799.25) scale(1.0052,1.0036)" font-size="38.8" font-weight="bold">CS</text>
<text transform="translate(1543.79,895.55) scale(1.0052,1.0036)" font-size="38.8" font-weight="bold">ALG</text>
<text transform="translate(1539.59,1011.95) scale(1.0052,1.0036)" font-size="38.8" font-weight="bold">CSNPs</text>
<text transform="translate(1544.24,1107.70) scale(1.0052,1.0036)" font-size="38.8" font-weight="bold">ALG-CSNPs</text>
<text transform="translate(25.60,1337.67) scale(1.1015,1.1395)" font-size="30.5" font-weight="bold">4000</text>
<text transform="translate(227.41,1337.72) scale(1.1015,1.1395)" font-size="30.5" font-weight="bold">3500</text>
<text transform="translate(431.91,1337.72) scale(1.1015,1.1395)" font-size="30.5" font-weight="bold">3000</text>
<text transform="translate(632.52,1337.87) scale(1.1015,1.1395)" font-size="30.5" font-weight="bold">2500</text>
<text transform="translate(834.32,1337.87) scale(1.1015,1.1395)" font-size="30.5" font-weight="bold">2000</text>
<text transform="translate(1037.12,1337.87) scale(1.1015,1.1395)" font-size="30.5" font-weight="bold">1500</text>
<text transform="translate(1239.07,1337.87) scale(1.1015,1.1395)" font-size="30.5" font-weight="bold">1000</text>
<text transform="translate(1452.80,1337.87) scale(1.1015,1.1395)" font-size="30.5" font-weight="bold">500</text>
<text transform="translate(588.75,1399.51) scale(0.9980,1.0111)" font-size="39.6" font-weight="bold" letter-spacing="0.5">wavenumber (cm<tspan dy="-18.5" font-size="26.5">-1</tspan><tspan dy="18.5">)</tspan></text>
<ellipse cx="723.6" cy="950.3" rx="58.9" ry="40.8" fill="none" stroke="#000" stroke-width="1.75" stroke-dasharray="1.5 3.6"/>
<ellipse cx="1031" cy="977.5" rx="45.2" ry="40.7" fill="none" stroke="#000" stroke-width="1.75" stroke-dasharray="1.5 3.6"/>
<ellipse cx="1113.8" cy="945.7" rx="45.6" ry="40.7" fill="none" stroke="#000" stroke-width="1.75" stroke-dasharray="1.5 3.6"/>
<ellipse cx="1265.7" cy="1007.2" rx="43" ry="40.7" fill="none" stroke="#000" stroke-width="1.75" stroke-dasharray="1.5 3.6"/>
<ellipse cx="722.7" cy="1096.8" rx="59.3" ry="41" fill="none" stroke="#000" stroke-width="1.75" stroke-dasharray="1.5 3.6"/>
<ellipse cx="1033.3" cy="1171" rx="45.2" ry="40.7" fill="none" stroke="#000" stroke-width="1.75" stroke-dasharray="1.5 3.6"/>
<ellipse cx="1116.3" cy="1111.7" rx="48.8" ry="40.8" fill="none" stroke="#000" stroke-width="1.75" stroke-dasharray="1.5 3.6"/>
<ellipse cx="1254.2" cy="1127.1" rx="46.4" ry="40.5" fill="none" stroke="#000" stroke-width="1.75" stroke-dasharray="1.5 3.6"/>
</svg>
</body></html>
